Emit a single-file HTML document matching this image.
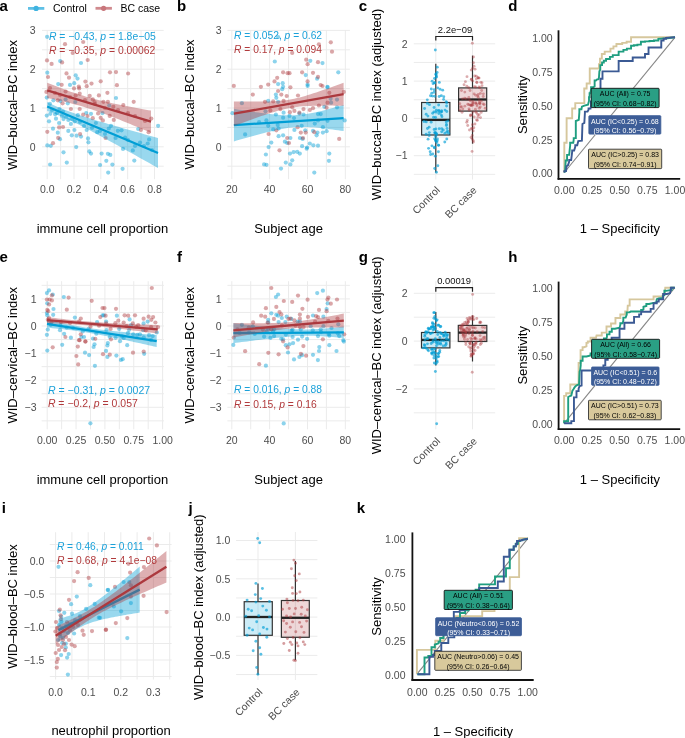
<!DOCTYPE html>
<html><head><meta charset="utf-8"><style>
html,body{margin:0;padding:0;background:#fff;}
svg{display:block;font-family:"Liberation Sans", sans-serif;will-change:transform;}
</style></head><body>
<svg width="685" height="738" viewBox="0 0 685 738">
<rect width="685" height="738" fill="#fff"/>
<line x1="28" y1="8.4" x2="44.3" y2="8.4" stroke="#5fc0e6" stroke-width="2.8" stroke-linecap="butt"/>
<circle cx="36.1" cy="8.4" r="2.6" fill="#3fb3e0"/>
<text x="53" y="12" font-size="10.5" text-anchor="start" fill="#000" font-weight="normal">Control</text>
<line x1="95.5" y1="8.3" x2="111.9" y2="8.3" stroke="#d08a8e" stroke-width="2.8" stroke-linecap="butt"/>
<circle cx="103.6" cy="8.3" r="2.6" fill="#c8767b"/>
<text x="120.4" y="12" font-size="10.5" text-anchor="start" fill="#000" font-weight="normal">BC case</text>
<text x="-0.6" y="10.7" font-size="15" text-anchor="start" fill="#000" font-weight="bold">a</text>
<line x1="42" y1="166.2" x2="163.7" y2="166.2" stroke="#ebebeb" stroke-width="1" stroke-linecap="butt"/>
<line x1="42" y1="146.8" x2="163.7" y2="146.8" stroke="#ebebeb" stroke-width="1" stroke-linecap="butt"/>
<line x1="42" y1="127.4" x2="163.7" y2="127.4" stroke="#ebebeb" stroke-width="1" stroke-linecap="butt"/>
<line x1="42" y1="108" x2="163.7" y2="108" stroke="#ebebeb" stroke-width="1" stroke-linecap="butt"/>
<line x1="42" y1="88.6" x2="163.7" y2="88.6" stroke="#ebebeb" stroke-width="1" stroke-linecap="butt"/>
<line x1="42" y1="69.2" x2="163.7" y2="69.2" stroke="#ebebeb" stroke-width="1" stroke-linecap="butt"/>
<line x1="42" y1="49.8" x2="163.7" y2="49.8" stroke="#ebebeb" stroke-width="1" stroke-linecap="butt"/>
<line x1="42" y1="30.4" x2="163.7" y2="30.4" stroke="#ebebeb" stroke-width="1" stroke-linecap="butt"/>
<line x1="47.2" y1="30" x2="47.2" y2="179.2" stroke="#ebebeb" stroke-width="1" stroke-linecap="butt"/>
<line x1="60.61" y1="30" x2="60.61" y2="179.2" stroke="#ebebeb" stroke-width="1" stroke-linecap="butt"/>
<line x1="74.02" y1="30" x2="74.02" y2="179.2" stroke="#ebebeb" stroke-width="1" stroke-linecap="butt"/>
<line x1="87.43" y1="30" x2="87.43" y2="179.2" stroke="#ebebeb" stroke-width="1" stroke-linecap="butt"/>
<line x1="100.84" y1="30" x2="100.84" y2="179.2" stroke="#ebebeb" stroke-width="1" stroke-linecap="butt"/>
<line x1="114.25" y1="30" x2="114.25" y2="179.2" stroke="#ebebeb" stroke-width="1" stroke-linecap="butt"/>
<line x1="127.66" y1="30" x2="127.66" y2="179.2" stroke="#ebebeb" stroke-width="1" stroke-linecap="butt"/>
<line x1="141.07" y1="30" x2="141.07" y2="179.2" stroke="#ebebeb" stroke-width="1" stroke-linecap="butt"/>
<line x1="154.48" y1="30" x2="154.48" y2="179.2" stroke="#ebebeb" stroke-width="1" stroke-linecap="butt"/>
<g fill="#009ed5" fill-opacity="0.45"><circle cx="47.1" cy="36.8" r="2.1"/><circle cx="60.2" cy="61.1" r="2.1"/><circle cx="81" cy="63" r="2.1"/><circle cx="47.3" cy="72.7" r="2.1"/><circle cx="75.7" cy="75.3" r="2.1"/><circle cx="77.5" cy="78.6" r="2.1"/><circle cx="58.2" cy="84.1" r="2.1"/><circle cx="70" cy="84.9" r="2.1"/><circle cx="74.2" cy="83.2" r="2.1"/><circle cx="46.8" cy="97.6" r="2.1"/><circle cx="60.4" cy="101.1" r="2.1"/><circle cx="67.8" cy="103.3" r="2.1"/><circle cx="75.3" cy="102" r="2.1"/><circle cx="65.6" cy="99.4" r="2.1"/><circle cx="46.8" cy="115.6" r="2.1"/><circle cx="50.3" cy="113.8" r="2.1"/><circle cx="56" cy="118.7" r="2.1"/><circle cx="49" cy="121.3" r="2.1"/><circle cx="59.1" cy="123" r="2.1"/><circle cx="63.5" cy="119.1" r="2.1"/><circle cx="68.3" cy="120" r="2.1"/><circle cx="70.9" cy="123.9" r="2.1"/><circle cx="74.8" cy="121.3" r="2.1"/><circle cx="77.9" cy="115.2" r="2.1"/><circle cx="86.2" cy="113" r="2.1"/><circle cx="91" cy="113.8" r="2.1"/><circle cx="53" cy="128.7" r="2.1"/><circle cx="57.8" cy="132.7" r="2.1"/><circle cx="68.3" cy="130.9" r="2.1"/><circle cx="74.4" cy="130" r="2.1"/><circle cx="71.8" cy="135.3" r="2.1"/><circle cx="76.6" cy="135.7" r="2.1"/><circle cx="81" cy="136.6" r="2.1"/><circle cx="60" cy="139.2" r="2.1"/><circle cx="86.7" cy="130" r="2.1"/><circle cx="88" cy="138.4" r="2.1"/><circle cx="88.4" cy="142.3" r="2.1"/><circle cx="95.9" cy="123" r="2.1"/><circle cx="97.2" cy="132.2" r="2.1"/><circle cx="47.3" cy="145.4" r="2.1"/><circle cx="50.8" cy="145.8" r="2.1"/><circle cx="76.2" cy="147.1" r="2.1"/><circle cx="55.1" cy="114.3" r="2.1"/><circle cx="63" cy="111.6" r="2.1"/><circle cx="59.5" cy="109" r="2.1"/><circle cx="49.9" cy="103.8" r="2.1"/><circle cx="53.4" cy="100.3" r="2.1"/><circle cx="63.5" cy="152.3" r="2.1"/><circle cx="89.3" cy="151.4" r="2.1"/><circle cx="91" cy="153.6" r="2.1"/><circle cx="101.6" cy="153.6" r="2.1"/><circle cx="50.1" cy="164.5" r="2.1"/><circle cx="66.8" cy="162.6" r="2.1"/><circle cx="100.1" cy="165" r="2.1"/><circle cx="116" cy="98" r="2.1"/><circle cx="109.2" cy="105.5" r="2.1"/><circle cx="111" cy="125.8" r="2.1"/><circle cx="108.8" cy="128.5" r="2.1"/><circle cx="117.8" cy="130.8" r="2.1"/><circle cx="121.5" cy="130.3" r="2.1"/><circle cx="138.2" cy="129" r="2.1"/><circle cx="158.1" cy="125.8" r="2.1"/><circle cx="125.1" cy="137.6" r="2.1"/><circle cx="149.1" cy="139.4" r="2.1"/><circle cx="147.7" cy="143.5" r="2.1"/><circle cx="140" cy="142.6" r="2.1"/><circle cx="115.6" cy="138" r="2.1"/><circle cx="102.5" cy="113.1" r="2.1"/><circle cx="123" cy="148.9" r="2.1"/><circle cx="132.8" cy="150.4" r="2.1"/><circle cx="135" cy="145.9" r="2.1"/><circle cx="107.9" cy="153.8" r="2.1"/><circle cx="110.3" cy="154.9" r="2.1"/><circle cx="106.3" cy="160.8" r="2.1"/><circle cx="112.4" cy="164.6" r="2.1"/><circle cx="134.3" cy="160.6" r="2.1"/><circle cx="122.6" cy="168.8" r="2.1"/><circle cx="108.2" cy="172.6" r="2.1"/><circle cx="52" cy="110" r="2.1"/><circle cx="57" cy="113" r="2.1"/><circle cx="62" cy="116" r="2.1"/><circle cx="66" cy="117" r="2.1"/><circle cx="72" cy="119" r="2.1"/><circle cx="80" cy="122" r="2.1"/><circle cx="84" cy="126" r="2.1"/><circle cx="92" cy="128" r="2.1"/><circle cx="100" cy="131" r="2.1"/><circle cx="105" cy="134" r="2.1"/><circle cx="128" cy="140" r="2.1"/><circle cx="144" cy="146" r="2.1"/><circle cx="152" cy="150" r="2.1"/></g>
<g fill="#ac393e" fill-opacity="0.45"><circle cx="83.2" cy="42" r="2.1"/><circle cx="65" cy="44.2" r="2.1"/><circle cx="72.7" cy="53" r="2.1"/><circle cx="47" cy="60.4" r="2.1"/><circle cx="51.6" cy="63.9" r="2.1"/><circle cx="62.1" cy="62.4" r="2.1"/><circle cx="87.7" cy="60" r="2.1"/><circle cx="48" cy="77" r="2.1"/><circle cx="66.5" cy="73.4" r="2.1"/><circle cx="69" cy="77.7" r="2.1"/><circle cx="85.4" cy="81.6" r="2.1"/><circle cx="91.5" cy="83.6" r="2.1"/><circle cx="100.7" cy="81.3" r="2.1"/><circle cx="61.7" cy="84.8" r="2.1"/><circle cx="78.8" cy="86.7" r="2.1"/><circle cx="86.7" cy="86.2" r="2.1"/><circle cx="74" cy="88.4" r="2.1"/><circle cx="79.2" cy="88.4" r="2.1"/><circle cx="46.4" cy="91.9" r="2.1"/><circle cx="65.6" cy="91.5" r="2.1"/><circle cx="79.7" cy="93.7" r="2.1"/><circle cx="89.7" cy="95.9" r="2.1"/><circle cx="98.9" cy="95.4" r="2.1"/><circle cx="75.7" cy="95.4" r="2.1"/><circle cx="57.8" cy="100.3" r="2.1"/><circle cx="62.6" cy="103.3" r="2.1"/><circle cx="92.8" cy="99.4" r="2.1"/><circle cx="70.9" cy="109" r="2.1"/><circle cx="79.7" cy="109" r="2.1"/><circle cx="83.2" cy="114.7" r="2.1"/><circle cx="87.5" cy="116" r="2.1"/><circle cx="92.8" cy="118.2" r="2.1"/><circle cx="98.1" cy="113.4" r="2.1"/><circle cx="100.7" cy="117.8" r="2.1"/><circle cx="47.3" cy="131.8" r="2.1"/><circle cx="59.1" cy="127.4" r="2.1"/><circle cx="63" cy="127" r="2.1"/><circle cx="58.2" cy="137.9" r="2.1"/><circle cx="53" cy="143.2" r="2.1"/><circle cx="80.1" cy="134" r="2.1"/><circle cx="94.6" cy="102" r="2.1"/><circle cx="110" cy="72.3" r="2.1"/><circle cx="116" cy="72.1" r="2.1"/><circle cx="128.1" cy="73.5" r="2.1"/><circle cx="116.9" cy="85.2" r="2.1"/><circle cx="107.4" cy="92.8" r="2.1"/><circle cx="103.4" cy="101.8" r="2.1"/><circle cx="107.9" cy="101.8" r="2.1"/><circle cx="133.7" cy="101.8" r="2.1"/><circle cx="123.3" cy="105" r="2.1"/><circle cx="113.3" cy="106.8" r="2.1"/><circle cx="109.7" cy="115.9" r="2.1"/><circle cx="113.8" cy="119.9" r="2.1"/><circle cx="102.9" cy="120.4" r="2.1"/><circle cx="151.3" cy="118.6" r="2.1"/><circle cx="140.9" cy="129.9" r="2.1"/><circle cx="148.6" cy="132.2" r="2.1"/><circle cx="105.6" cy="138" r="2.1"/><circle cx="50" cy="88" r="2.1"/><circle cx="55" cy="93" r="2.1"/><circle cx="60" cy="95" r="2.1"/><circle cx="70" cy="97" r="2.1"/><circle cx="85" cy="100" r="2.1"/><circle cx="95" cy="104" r="2.1"/><circle cx="105" cy="108" r="2.1"/><circle cx="118" cy="110" r="2.1"/><circle cx="128" cy="113" r="2.1"/><circle cx="135" cy="116" r="2.1"/><circle cx="145" cy="121" r="2.1"/></g>
<path d="M47.2 102.1 L49.97 103.42 L52.74 104.7 L55.51 105.94 L58.28 107.14 L61.05 108.31 L63.82 109.43 L66.59 110.51 L69.36 111.55 L72.13 112.56 L74.9 113.54 L77.67 114.49 L80.44 115.42 L83.21 116.32 L85.98 117.21 L88.75 118.08 L91.52 118.94 L94.29 119.79 L97.06 120.63 L99.83 121.46 L102.6 122.28 L105.37 123.09 L108.14 123.9 L110.91 124.71 L113.68 125.51 L116.45 126.31 L119.22 127.1 L121.99 127.89 L124.76 128.68 L127.53 129.46 L130.3 130.25 L133.07 131.03 L135.84 131.81 L138.61 132.59 L141.38 133.36 L144.15 134.14 L146.92 134.91 L149.69 135.69 L152.46 136.46 L155.23 137.23 L158 138 L158 168 L155.23 166.45 L152.46 164.89 L149.69 163.34 L146.92 161.79 L144.15 160.24 L141.38 158.69 L138.61 157.14 L135.84 155.59 L133.07 154.05 L130.3 152.5 L127.53 150.96 L124.76 149.42 L121.99 147.89 L119.22 146.35 L116.45 144.82 L113.68 143.29 L110.91 141.77 L108.14 140.25 L105.37 138.73 L102.6 137.22 L99.83 135.72 L97.06 134.22 L94.29 132.74 L91.52 131.26 L88.75 129.79 L85.98 128.34 L83.21 126.9 L80.44 125.48 L77.67 124.08 L74.9 122.71 L72.13 121.36 L69.36 120.05 L66.59 118.76 L63.82 117.52 L61.05 116.32 L58.28 115.16 L55.51 114.03 L52.74 112.95 L49.97 111.91 L47.2 110.9Z" fill="#009ed5" fill-opacity="0.4"/>
<line x1="47.2" y1="106.5" x2="158" y2="153" stroke="#009ed5" stroke-width="2.3" stroke-linecap="butt"/>
<path d="M47.2 82.8 L49.8 83.83 L52.39 84.86 L54.98 85.87 L57.58 86.87 L60.18 87.85 L62.77 88.82 L65.37 89.78 L67.96 90.71 L70.56 91.63 L73.15 92.52 L75.75 93.39 L78.34 94.24 L80.94 95.06 L83.53 95.85 L86.12 96.63 L88.72 97.37 L91.31 98.1 L93.91 98.8 L96.5 99.47 L99.1 100.13 L101.69 100.76 L104.29 101.38 L106.89 101.98 L109.48 102.56 L112.08 103.13 L114.67 103.68 L117.27 104.23 L119.86 104.76 L122.45 105.28 L125.05 105.79 L127.64 106.3 L130.24 106.8 L132.84 107.29 L135.43 107.78 L138.03 108.26 L140.62 108.74 L143.22 109.21 L145.81 109.68 L148.41 110.14 L151 110.6 L151 132.8 L148.41 131.7 L145.81 130.59 L143.22 129.5 L140.62 128.4 L138.03 127.32 L135.43 126.23 L132.84 125.15 L130.24 124.08 L127.64 123.01 L125.05 121.96 L122.45 120.9 L119.86 119.86 L117.27 118.83 L114.67 117.81 L112.08 116.8 L109.48 115.8 L106.89 114.82 L104.29 113.85 L101.69 112.9 L99.1 111.97 L96.5 111.06 L93.91 110.17 L91.31 109.31 L88.72 108.47 L86.12 107.65 L83.53 106.86 L80.94 106.09 L78.34 105.34 L75.75 104.63 L73.15 103.93 L70.56 103.26 L67.96 102.61 L65.37 101.98 L62.77 101.37 L60.18 100.77 L57.58 100.19 L54.98 99.62 L52.39 99.07 L49.8 98.53 L47.2 98Z" fill="#ac393e" fill-opacity="0.4"/>
<line x1="47.2" y1="90.4" x2="151" y2="121.7" stroke="#ac393e" stroke-width="2.3" stroke-linecap="butt"/>
<text x="48.9" y="39.8" font-size="10.5" fill="#1ba1d9" textLength="106.9" lengthAdjust="spacingAndGlyphs" xml:space="preserve"><tspan font-style="italic">R</tspan> = −0.43, <tspan font-style="italic">p</tspan> = 1.8e−05</text>
<text x="48.9" y="53.6" font-size="10.5" fill="#b13a3c" textLength="106.5" lengthAdjust="spacingAndGlyphs" xml:space="preserve"><tspan font-style="italic">R</tspan> = −0.35, <tspan font-style="italic">p</tspan> = 0.00062</text>
<text x="35.6" y="150.5" font-size="10.5" text-anchor="end" fill="#4d4d4d" font-weight="normal">0</text>
<text x="35.6" y="111.7" font-size="10.5" text-anchor="end" fill="#4d4d4d" font-weight="normal">1</text>
<text x="35.6" y="72.9" font-size="10.5" text-anchor="end" fill="#4d4d4d" font-weight="normal">2</text>
<text x="35.6" y="34.1" font-size="10.5" text-anchor="end" fill="#4d4d4d" font-weight="normal">3</text>
<text x="47.2" y="193.3" font-size="10.5" text-anchor="middle" fill="#4d4d4d" font-weight="normal">0.0</text>
<text x="74.02" y="193.3" font-size="10.5" text-anchor="middle" fill="#4d4d4d" font-weight="normal">0.2</text>
<text x="100.84" y="193.3" font-size="10.5" text-anchor="middle" fill="#4d4d4d" font-weight="normal">0.4</text>
<text x="127.66" y="193.3" font-size="10.5" text-anchor="middle" fill="#4d4d4d" font-weight="normal">0.6</text>
<text x="154.48" y="193.3" font-size="10.5" text-anchor="middle" fill="#4d4d4d" font-weight="normal">0.8</text>
<text x="102.4" y="233.3" font-size="13" text-anchor="middle" fill="#000" font-weight="normal">immune cell proportion</text>
<text x="16.8" y="105" font-size="13" text-anchor="middle" fill="#000" font-weight="normal" transform="rotate(-90 16.8 105)">WID–buccal–BC index</text>
<text x="177" y="10.7" font-size="15" text-anchor="start" fill="#000" font-weight="bold">b</text>
<line x1="227.4" y1="166.2" x2="349.9" y2="166.2" stroke="#ebebeb" stroke-width="1" stroke-linecap="butt"/>
<line x1="227.4" y1="146.8" x2="349.9" y2="146.8" stroke="#ebebeb" stroke-width="1" stroke-linecap="butt"/>
<line x1="227.4" y1="127.4" x2="349.9" y2="127.4" stroke="#ebebeb" stroke-width="1" stroke-linecap="butt"/>
<line x1="227.4" y1="108" x2="349.9" y2="108" stroke="#ebebeb" stroke-width="1" stroke-linecap="butt"/>
<line x1="227.4" y1="88.6" x2="349.9" y2="88.6" stroke="#ebebeb" stroke-width="1" stroke-linecap="butt"/>
<line x1="227.4" y1="69.2" x2="349.9" y2="69.2" stroke="#ebebeb" stroke-width="1" stroke-linecap="butt"/>
<line x1="227.4" y1="49.8" x2="349.9" y2="49.8" stroke="#ebebeb" stroke-width="1" stroke-linecap="butt"/>
<line x1="227.4" y1="30.4" x2="349.9" y2="30.4" stroke="#ebebeb" stroke-width="1" stroke-linecap="butt"/>
<line x1="231.8" y1="30" x2="231.8" y2="179.2" stroke="#ebebeb" stroke-width="1" stroke-linecap="butt"/>
<line x1="250.72" y1="30" x2="250.72" y2="179.2" stroke="#ebebeb" stroke-width="1" stroke-linecap="butt"/>
<line x1="269.64" y1="30" x2="269.64" y2="179.2" stroke="#ebebeb" stroke-width="1" stroke-linecap="butt"/>
<line x1="288.56" y1="30" x2="288.56" y2="179.2" stroke="#ebebeb" stroke-width="1" stroke-linecap="butt"/>
<line x1="307.48" y1="30" x2="307.48" y2="179.2" stroke="#ebebeb" stroke-width="1" stroke-linecap="butt"/>
<line x1="326.4" y1="30" x2="326.4" y2="179.2" stroke="#ebebeb" stroke-width="1" stroke-linecap="butt"/>
<line x1="345.32" y1="30" x2="345.32" y2="179.2" stroke="#ebebeb" stroke-width="1" stroke-linecap="butt"/>
<g fill="#009ed5" fill-opacity="0.45"><circle cx="274.8" cy="61.5" r="2.1"/><circle cx="278.1" cy="37" r="2.1"/><circle cx="282.7" cy="83.2" r="2.1"/><circle cx="283.1" cy="86.8" r="2.1"/><circle cx="278.1" cy="84.1" r="2.1"/><circle cx="310.3" cy="60.8" r="2.1"/><circle cx="322.5" cy="63.1" r="2.1"/><circle cx="305.7" cy="75.1" r="2.1"/><circle cx="317.1" cy="78.7" r="2.1"/><circle cx="338.3" cy="72.3" r="2.1"/><circle cx="307.6" cy="84.6" r="2.1"/><circle cx="327.5" cy="86.8" r="2.1"/><circle cx="282.2" cy="89.2" r="2.1"/><circle cx="275.9" cy="94.6" r="2.1"/><circle cx="276.3" cy="97.8" r="2.1"/><circle cx="268.2" cy="100.9" r="2.1"/><circle cx="278.1" cy="101.8" r="2.1"/><circle cx="241.9" cy="103.2" r="2.1"/><circle cx="232.4" cy="113.2" r="2.1"/><circle cx="265.5" cy="111.3" r="2.1"/><circle cx="275.9" cy="114.5" r="2.1"/><circle cx="283.6" cy="112.7" r="2.1"/><circle cx="283.1" cy="117.7" r="2.1"/><circle cx="266.4" cy="120.4" r="2.1"/><circle cx="259.1" cy="122.2" r="2.1"/><circle cx="268.2" cy="125.8" r="2.1"/><circle cx="277.7" cy="124.9" r="2.1"/><circle cx="273.2" cy="129.4" r="2.1"/><circle cx="278.6" cy="128.5" r="2.1"/><circle cx="245.1" cy="134.4" r="2.1"/><circle cx="278.6" cy="136.2" r="2.1"/><circle cx="283.1" cy="135.3" r="2.1"/><circle cx="271.3" cy="142.6" r="2.1"/><circle cx="284.9" cy="141.7" r="2.1"/><circle cx="287.2" cy="143" r="2.1"/><circle cx="268.6" cy="147.1" r="2.1"/><circle cx="327.5" cy="87.4" r="2.1"/><circle cx="330.6" cy="98.7" r="2.1"/><circle cx="337" cy="99.6" r="2.1"/><circle cx="331.1" cy="102.7" r="2.1"/><circle cx="324.3" cy="106.8" r="2.1"/><circle cx="337" cy="107.3" r="2.1"/><circle cx="299.4" cy="113.6" r="2.1"/><circle cx="303.5" cy="114.5" r="2.1"/><circle cx="318" cy="114.1" r="2.1"/><circle cx="320.7" cy="114.1" r="2.1"/><circle cx="294" cy="118.1" r="2.1"/><circle cx="289.5" cy="115.9" r="2.1"/><circle cx="344.7" cy="120.4" r="2.1"/><circle cx="314.8" cy="123.6" r="2.1"/><circle cx="301.7" cy="125.8" r="2.1"/><circle cx="322.9" cy="127.2" r="2.1"/><circle cx="327.5" cy="120.8" r="2.1"/><circle cx="318" cy="120.4" r="2.1"/><circle cx="294.4" cy="129.9" r="2.1"/><circle cx="305.3" cy="130.3" r="2.1"/><circle cx="313" cy="130.8" r="2.1"/><circle cx="317.5" cy="132.6" r="2.1"/><circle cx="316.6" cy="135.3" r="2.1"/><circle cx="322.9" cy="132.6" r="2.1"/><circle cx="326.6" cy="131.2" r="2.1"/><circle cx="290.4" cy="138" r="2.1"/><circle cx="299.9" cy="138" r="2.1"/><circle cx="302.6" cy="138.9" r="2.1"/><circle cx="309.8" cy="143.5" r="2.1"/><circle cx="313.4" cy="145.3" r="2.1"/><circle cx="318" cy="145.7" r="2.1"/><circle cx="302.1" cy="146.2" r="2.1"/><circle cx="307.1" cy="147.5" r="2.1"/><circle cx="307.6" cy="86" r="2.1"/><circle cx="265.9" cy="154.5" r="2.1"/><circle cx="290" cy="153.6" r="2.1"/><circle cx="293.6" cy="152.1" r="2.1"/><circle cx="297.2" cy="151.8" r="2.1"/><circle cx="299.8" cy="153.6" r="2.1"/><circle cx="306.7" cy="148.7" r="2.1"/><circle cx="329.3" cy="153.6" r="2.1"/><circle cx="328.9" cy="160.8" r="2.1"/><circle cx="292.2" cy="160.3" r="2.1"/><circle cx="285.8" cy="162.6" r="2.1"/><circle cx="290.4" cy="164.4" r="2.1"/><circle cx="264.1" cy="164.4" r="2.1"/><circle cx="266.5" cy="164.8" r="2.1"/><circle cx="281" cy="168.6" r="2.1"/><circle cx="314.3" cy="172.6" r="2.1"/></g>
<g fill="#ac393e" fill-opacity="0.45"><circle cx="283.1" cy="72.3" r="2.1"/><circle cx="287.6" cy="73.2" r="2.1"/><circle cx="277.2" cy="77.8" r="2.1"/><circle cx="274.5" cy="81.4" r="2.1"/><circle cx="268.2" cy="84.6" r="2.1"/><circle cx="260.9" cy="86.8" r="2.1"/><circle cx="233.8" cy="85.9" r="2.1"/><circle cx="318.9" cy="44.3" r="2.1"/><circle cx="330.8" cy="42.3" r="2.1"/><circle cx="332" cy="51.7" r="2.1"/><circle cx="292.2" cy="52.9" r="2.1"/><circle cx="306.2" cy="59.7" r="2.1"/><circle cx="307.6" cy="64.2" r="2.1"/><circle cx="318" cy="62.2" r="2.1"/><circle cx="302.1" cy="72.3" r="2.1"/><circle cx="313" cy="72.8" r="2.1"/><circle cx="318" cy="76.9" r="2.1"/><circle cx="307.6" cy="81.4" r="2.1"/><circle cx="320.7" cy="85" r="2.1"/><circle cx="289.5" cy="73.2" r="2.1"/><circle cx="290.4" cy="87.3" r="2.1"/><circle cx="252.8" cy="94.6" r="2.1"/><circle cx="278.1" cy="91" r="2.1"/><circle cx="281.3" cy="94.6" r="2.1"/><circle cx="286.7" cy="96" r="2.1"/><circle cx="265" cy="101.8" r="2.1"/><circle cx="273.2" cy="101.4" r="2.1"/><circle cx="283.6" cy="100.9" r="2.1"/><circle cx="268.6" cy="134" r="2.1"/><circle cx="276.3" cy="130.3" r="2.1"/><circle cx="287.2" cy="138" r="2.1"/><circle cx="280.4" cy="109.1" r="2.1"/><circle cx="270.4" cy="110.4" r="2.1"/><circle cx="298" cy="95.5" r="2.1"/><circle cx="329.3" cy="92.8" r="2.1"/><circle cx="343.8" cy="91.9" r="2.1"/><circle cx="318.9" cy="105.5" r="2.1"/><circle cx="327.5" cy="102.7" r="2.1"/><circle cx="326.6" cy="107.7" r="2.1"/><circle cx="313" cy="108.2" r="2.1"/><circle cx="309.8" cy="110" r="2.1"/><circle cx="303.5" cy="109.1" r="2.1"/><circle cx="294.4" cy="110.9" r="2.1"/><circle cx="292.2" cy="107.3" r="2.1"/><circle cx="289.9" cy="112.2" r="2.1"/><circle cx="299.4" cy="112.7" r="2.1"/><circle cx="297.6" cy="127.2" r="2.1"/><circle cx="300.8" cy="132.6" r="2.1"/><circle cx="305.7" cy="132.6" r="2.1"/><circle cx="314.3" cy="132.2" r="2.1"/><circle cx="339.2" cy="138.9" r="2.1"/><circle cx="303" cy="138" r="2.1"/><circle cx="289" cy="143" r="2.1"/><circle cx="322.5" cy="86" r="2.1"/><circle cx="279.5" cy="150.3" r="2.1"/></g>
<path d="M233.9 108.8 L236.64 109.24 L239.39 109.68 L242.13 110.12 L244.87 110.55 L247.61 110.97 L250.36 111.39 L253.1 111.79 L255.84 112.19 L258.58 112.58 L261.32 112.96 L264.07 113.32 L266.81 113.67 L269.55 113.99 L272.3 114.29 L275.04 114.57 L277.78 114.81 L280.52 115.02 L283.26 115.18 L286.01 115.28 L288.75 115.33 L291.49 115.32 L294.24 115.23 L296.98 115.07 L299.72 114.84 L302.46 114.53 L305.21 114.16 L307.95 113.73 L310.69 113.24 L313.43 112.7 L316.18 112.13 L318.92 111.52 L321.66 110.88 L324.4 110.21 L327.15 109.52 L329.89 108.82 L332.63 108.1 L335.37 107.36 L338.12 106.62 L340.86 105.86 L343.6 105.1 L343.6 131.1 L340.86 130.69 L338.12 130.28 L335.37 129.89 L332.63 129.5 L329.89 129.13 L327.15 128.78 L324.4 128.44 L321.66 128.12 L318.92 127.83 L316.18 127.57 L313.43 127.35 L310.69 127.16 L307.95 127.02 L305.21 126.94 L302.46 126.92 L299.72 126.96 L296.98 127.08 L294.24 127.27 L291.49 127.53 L288.75 127.87 L286.01 128.27 L283.26 128.72 L280.52 129.23 L277.78 129.79 L275.04 130.38 L272.3 131.01 L269.55 131.66 L266.81 132.33 L264.07 133.03 L261.32 133.74 L258.58 134.47 L255.84 135.21 L253.1 135.96 L250.36 136.71 L247.61 137.48 L244.87 138.25 L242.13 139.03 L239.39 139.82 L236.64 140.61 L233.9 141.4Z" fill="#009ed5" fill-opacity="0.4"/>
<line x1="233.9" y1="125.1" x2="343.6" y2="118.1" stroke="#009ed5" stroke-width="2.3" stroke-linecap="butt"/>
<path d="M233.9 101.5 L236.64 101.53 L239.39 101.56 L242.13 101.58 L244.87 101.6 L247.61 101.62 L250.36 101.62 L253.1 101.62 L255.84 101.62 L258.58 101.6 L261.32 101.57 L264.07 101.53 L266.81 101.47 L269.55 101.39 L272.3 101.28 L275.04 101.14 L277.78 100.97 L280.52 100.74 L283.26 100.47 L286.01 100.14 L288.75 99.73 L291.49 99.26 L294.24 98.71 L296.98 98.09 L299.72 97.41 L302.46 96.68 L305.21 95.89 L307.95 95.07 L310.69 94.21 L313.43 93.32 L316.18 92.42 L318.92 91.49 L321.66 90.55 L324.4 89.6 L327.15 88.63 L329.89 87.66 L332.63 86.68 L335.37 85.69 L338.12 84.7 L340.86 83.7 L343.6 82.7 L343.6 105.7 L340.86 105.67 L338.12 105.65 L335.37 105.63 L332.63 105.62 L329.89 105.62 L327.15 105.62 L324.4 105.63 L321.66 105.65 L318.92 105.68 L316.18 105.73 L313.43 105.8 L310.69 105.89 L307.95 106.01 L305.21 106.16 L302.46 106.35 L299.72 106.59 L296.98 106.88 L294.24 107.24 L291.49 107.67 L288.75 108.17 L286.01 108.74 L283.26 109.38 L280.52 110.08 L277.78 110.83 L275.04 111.63 L272.3 112.47 L269.55 113.34 L266.81 114.23 L264.07 115.15 L261.32 116.08 L258.58 117.02 L255.84 117.98 L253.1 118.95 L250.36 119.93 L247.61 120.91 L244.87 121.9 L242.13 122.89 L239.39 123.89 L236.64 124.89 L233.9 125.9Z" fill="#ac393e" fill-opacity="0.4"/>
<line x1="233.9" y1="113.7" x2="343.6" y2="94.2" stroke="#ac393e" stroke-width="2.3" stroke-linecap="butt"/>
<text x="234" y="39" font-size="10.5" fill="#1ba1d9" textLength="88.1" lengthAdjust="spacingAndGlyphs" xml:space="preserve"><tspan font-style="italic">R</tspan> = 0.052, <tspan font-style="italic">p</tspan> = 0.62</text>
<text x="234" y="52.7" font-size="10.5" fill="#b13a3c" textLength="88" lengthAdjust="spacingAndGlyphs" xml:space="preserve"><tspan font-style="italic">R</tspan> = 0.17, <tspan font-style="italic">p</tspan> = 0.094</text>
<text x="221.6" y="150.5" font-size="10.5" text-anchor="end" fill="#4d4d4d" font-weight="normal">0</text>
<text x="221.6" y="111.7" font-size="10.5" text-anchor="end" fill="#4d4d4d" font-weight="normal">1</text>
<text x="221.6" y="72.9" font-size="10.5" text-anchor="end" fill="#4d4d4d" font-weight="normal">2</text>
<text x="221.6" y="34.1" font-size="10.5" text-anchor="end" fill="#4d4d4d" font-weight="normal">3</text>
<text x="231.8" y="193.3" font-size="10.5" text-anchor="middle" fill="#4d4d4d" font-weight="normal">20</text>
<text x="269.64" y="193.3" font-size="10.5" text-anchor="middle" fill="#4d4d4d" font-weight="normal">40</text>
<text x="307.48" y="193.3" font-size="10.5" text-anchor="middle" fill="#4d4d4d" font-weight="normal">60</text>
<text x="345.32" y="193.3" font-size="10.5" text-anchor="middle" fill="#4d4d4d" font-weight="normal">80</text>
<text x="288.6" y="233.3" font-size="13" text-anchor="middle" fill="#000" font-weight="normal">Subject age</text>
<text x="194.4" y="104.4" font-size="13" text-anchor="middle" fill="#000" font-weight="normal" transform="rotate(-90 194.4 104.4)">WID–buccal–BC index</text>
<text x="358.8" y="10.7" font-size="15" text-anchor="start" fill="#000" font-weight="bold">c</text>
<line x1="413.8" y1="174.35" x2="495.2" y2="174.35" stroke="#ebebeb" stroke-width="1" stroke-linecap="butt"/>
<line x1="413.8" y1="155.7" x2="495.2" y2="155.7" stroke="#ebebeb" stroke-width="1" stroke-linecap="butt"/>
<line x1="413.8" y1="137.05" x2="495.2" y2="137.05" stroke="#ebebeb" stroke-width="1" stroke-linecap="butt"/>
<line x1="413.8" y1="118.4" x2="495.2" y2="118.4" stroke="#ebebeb" stroke-width="1" stroke-linecap="butt"/>
<line x1="413.8" y1="99.75" x2="495.2" y2="99.75" stroke="#ebebeb" stroke-width="1" stroke-linecap="butt"/>
<line x1="413.8" y1="81.1" x2="495.2" y2="81.1" stroke="#ebebeb" stroke-width="1" stroke-linecap="butt"/>
<line x1="413.8" y1="62.45" x2="495.2" y2="62.45" stroke="#ebebeb" stroke-width="1" stroke-linecap="butt"/>
<line x1="413.8" y1="43.8" x2="495.2" y2="43.8" stroke="#ebebeb" stroke-width="1" stroke-linecap="butt"/>
<line x1="435.8" y1="30" x2="435.8" y2="179.5" stroke="#ebebeb" stroke-width="1" stroke-linecap="butt"/>
<line x1="472.5" y1="30" x2="472.5" y2="179.5" stroke="#ebebeb" stroke-width="1" stroke-linecap="butt"/>
<line x1="435.8" y1="63.7" x2="435.8" y2="102.5" stroke="#333" stroke-width="1.2" stroke-linecap="butt"/>
<line x1="435.8" y1="135" x2="435.8" y2="172.6" stroke="#333" stroke-width="1.2" stroke-linecap="butt"/>
<rect x="421.6" y="102.5" width="28.3" height="32.5" fill="#009ed5" fill-opacity="0.2" stroke="#333" stroke-width="1.2"/>
<line x1="421.6" y1="119.9" x2="449.9" y2="119.9" stroke="#222" stroke-width="2.3" stroke-linecap="butt"/>
<line x1="472.5" y1="55.6" x2="472.5" y2="87.9" stroke="#333" stroke-width="1.2" stroke-linecap="butt"/>
<line x1="472.5" y1="111.1" x2="472.5" y2="143.7" stroke="#333" stroke-width="1.2" stroke-linecap="butt"/>
<rect x="458.6" y="87.9" width="28.1" height="23.2" fill="#ac393e" fill-opacity="0.2" stroke="#333" stroke-width="1.2"/>
<line x1="458.6" y1="99.5" x2="486.7" y2="99.5" stroke="#222" stroke-width="2.3" stroke-linecap="butt"/>
<g fill="#009ed5" fill-opacity="0.65"><circle cx="429.12" cy="127.16" r="1.45"/><circle cx="446.2" cy="101.59" r="1.45"/><circle cx="437.45" cy="138.99" r="1.45"/><circle cx="446.42" cy="125.61" r="1.45"/><circle cx="429.29" cy="132.61" r="1.45"/><circle cx="427.91" cy="116.1" r="1.45"/><circle cx="427.31" cy="99.86" r="1.45"/><circle cx="434.7" cy="168.54" r="1.45"/><circle cx="429.48" cy="104.65" r="1.45"/><circle cx="427.36" cy="103.41" r="1.45"/><circle cx="424.59" cy="108.47" r="1.45"/><circle cx="436.5" cy="76.05" r="1.45"/><circle cx="446.65" cy="102.74" r="1.45"/><circle cx="434.59" cy="138.86" r="1.45"/><circle cx="434.54" cy="82.89" r="1.45"/><circle cx="426.22" cy="121.88" r="1.45"/><circle cx="436.43" cy="172.2" r="1.45"/><circle cx="436.36" cy="77.15" r="1.45"/><circle cx="446.47" cy="124.36" r="1.45"/><circle cx="447.83" cy="120.9" r="1.45"/><circle cx="435.34" cy="132.98" r="1.45"/><circle cx="432.13" cy="81.17" r="1.45"/><circle cx="438.43" cy="151.76" r="1.45"/><circle cx="443.78" cy="96.81" r="1.45"/><circle cx="443.63" cy="99.39" r="1.45"/><circle cx="437.14" cy="72.38" r="1.45"/><circle cx="434.15" cy="89.65" r="1.45"/><circle cx="438.63" cy="105.01" r="1.45"/><circle cx="448.63" cy="133.33" r="1.45"/><circle cx="441.91" cy="116.64" r="1.45"/><circle cx="434.68" cy="96.25" r="1.45"/><circle cx="430.6" cy="154.57" r="1.45"/><circle cx="435.39" cy="140.05" r="1.45"/><circle cx="438.78" cy="110.9" r="1.45"/><circle cx="431.77" cy="93.14" r="1.45"/><circle cx="439.18" cy="96.48" r="1.45"/><circle cx="438.61" cy="145.22" r="1.45"/><circle cx="437.86" cy="165.69" r="1.45"/><circle cx="434" cy="111.83" r="1.45"/><circle cx="446.57" cy="106.07" r="1.45"/><circle cx="432.37" cy="96.09" r="1.45"/><circle cx="435.73" cy="141.05" r="1.45"/><circle cx="444.79" cy="141.96" r="1.45"/><circle cx="431.31" cy="89.02" r="1.45"/><circle cx="433.56" cy="117.27" r="1.45"/><circle cx="435.65" cy="136.4" r="1.45"/><circle cx="435.32" cy="156.15" r="1.45"/><circle cx="437.29" cy="67.13" r="1.45"/><circle cx="437.27" cy="140.87" r="1.45"/><circle cx="434.63" cy="132.82" r="1.45"/><circle cx="432.81" cy="154.05" r="1.45"/><circle cx="424.02" cy="121.46" r="1.45"/><circle cx="437.78" cy="87.86" r="1.45"/><circle cx="447.72" cy="131.1" r="1.45"/><circle cx="427.45" cy="128.45" r="1.45"/><circle cx="441.37" cy="115.12" r="1.45"/><circle cx="431.91" cy="145.86" r="1.45"/><circle cx="438.78" cy="110.41" r="1.45"/><circle cx="434.11" cy="92.3" r="1.45"/><circle cx="447.05" cy="128.45" r="1.45"/><circle cx="426.18" cy="114.19" r="1.45"/><circle cx="434.63" cy="82.67" r="1.45"/><circle cx="439.34" cy="82.42" r="1.45"/><circle cx="438.47" cy="145.14" r="1.45"/><circle cx="441.57" cy="110.68" r="1.45"/><circle cx="430.5" cy="95.8" r="1.45"/><circle cx="442.7" cy="90.15" r="1.45"/><circle cx="434.5" cy="78.46" r="1.45"/><circle cx="445.05" cy="110.1" r="1.45"/><circle cx="436.79" cy="142.43" r="1.45"/><circle cx="435.47" cy="132.8" r="1.45"/><circle cx="430.19" cy="151.82" r="1.45"/><circle cx="443.29" cy="130.03" r="1.45"/><circle cx="428.07" cy="139.14" r="1.45"/><circle cx="440.72" cy="112.28" r="1.45"/><circle cx="435.76" cy="74.45" r="1.45"/><circle cx="436.49" cy="134.5" r="1.45"/><circle cx="441.75" cy="128.66" r="1.45"/><circle cx="436.11" cy="74" r="1.45"/><circle cx="432.71" cy="113.28" r="1.45"/><circle cx="444.92" cy="133.24" r="1.45"/><circle cx="436.43" cy="110.27" r="1.45"/><circle cx="435.88" cy="128.95" r="1.45"/><circle cx="428.57" cy="148.33" r="1.45"/><circle cx="441.33" cy="95.67" r="1.45"/><circle cx="435.57" cy="117.45" r="1.45"/><circle cx="434.42" cy="147.32" r="1.45"/><circle cx="446.81" cy="131.95" r="1.45"/><circle cx="434.08" cy="107.53" r="1.45"/><circle cx="446.21" cy="122.01" r="1.45"/><circle cx="438.87" cy="113.47" r="1.45"/><circle cx="426.17" cy="134.22" r="1.45"/><circle cx="429.14" cy="135.55" r="1.45"/><circle cx="431.17" cy="122.16" r="1.45"/><circle cx="441.8" cy="111.63" r="1.45"/><circle cx="436.07" cy="112.15" r="1.45"/><circle cx="434.16" cy="129.45" r="1.45"/><circle cx="434.45" cy="147.92" r="1.45"/><circle cx="439.21" cy="128.64" r="1.45"/><circle cx="436.57" cy="133.63" r="1.45"/><circle cx="433.11" cy="83.66" r="1.45"/><circle cx="440.07" cy="89.26" r="1.45"/><circle cx="446.79" cy="111.48" r="1.45"/><circle cx="446.79" cy="139.07" r="1.45"/><circle cx="441.69" cy="131.77" r="1.45"/><circle cx="435.32" cy="50" r="1.45"/></g>
<g fill="#ac393e" fill-opacity="0.42"><circle cx="471.93" cy="128.91" r="1.45"/><circle cx="462.78" cy="108.98" r="1.45"/><circle cx="464.72" cy="98.21" r="1.45"/><circle cx="483.2" cy="96.51" r="1.45"/><circle cx="477.78" cy="114.77" r="1.45"/><circle cx="476.62" cy="113.03" r="1.45"/><circle cx="460.47" cy="106.86" r="1.45"/><circle cx="472.89" cy="102.99" r="1.45"/><circle cx="464.8" cy="106.14" r="1.45"/><circle cx="485.25" cy="108.24" r="1.45"/><circle cx="484.24" cy="104.58" r="1.45"/><circle cx="479.38" cy="102.96" r="1.45"/><circle cx="471.43" cy="79.26" r="1.45"/><circle cx="459.84" cy="103.76" r="1.45"/><circle cx="471.3" cy="105.57" r="1.45"/><circle cx="470.04" cy="90.48" r="1.45"/><circle cx="459.9" cy="109.98" r="1.45"/><circle cx="477.91" cy="117.24" r="1.45"/><circle cx="470.57" cy="115.02" r="1.45"/><circle cx="472.57" cy="80.91" r="1.45"/><circle cx="483.19" cy="103.99" r="1.45"/><circle cx="478.95" cy="87" r="1.45"/><circle cx="475.04" cy="69.14" r="1.45"/><circle cx="476.55" cy="119.95" r="1.45"/><circle cx="467" cy="76.66" r="1.45"/><circle cx="471.87" cy="114.86" r="1.45"/><circle cx="475.71" cy="86.93" r="1.45"/><circle cx="476.82" cy="104.14" r="1.45"/><circle cx="473.14" cy="140.59" r="1.45"/><circle cx="482" cy="82.79" r="1.45"/><circle cx="477.73" cy="95.98" r="1.45"/><circle cx="475.5" cy="103.16" r="1.45"/><circle cx="466.17" cy="99.04" r="1.45"/><circle cx="469.27" cy="110.27" r="1.45"/><circle cx="478.1" cy="77.7" r="1.45"/><circle cx="472.7" cy="103.03" r="1.45"/><circle cx="476.35" cy="76.28" r="1.45"/><circle cx="479.24" cy="108.24" r="1.45"/><circle cx="471.14" cy="137.55" r="1.45"/><circle cx="475.39" cy="109.28" r="1.45"/><circle cx="472.18" cy="138.88" r="1.45"/><circle cx="474.27" cy="117.06" r="1.45"/><circle cx="474.08" cy="93.91" r="1.45"/><circle cx="474.95" cy="123.95" r="1.45"/><circle cx="462.04" cy="112.33" r="1.45"/><circle cx="479.12" cy="100.63" r="1.45"/><circle cx="466.74" cy="122.33" r="1.45"/><circle cx="480.75" cy="82.37" r="1.45"/><circle cx="472.22" cy="135.38" r="1.45"/><circle cx="473.04" cy="112.16" r="1.45"/><circle cx="478.29" cy="97.34" r="1.45"/><circle cx="473.13" cy="130.88" r="1.45"/><circle cx="475.73" cy="95.3" r="1.45"/><circle cx="473.23" cy="101.11" r="1.45"/><circle cx="471.01" cy="104.88" r="1.45"/><circle cx="474.38" cy="86.62" r="1.45"/><circle cx="479.73" cy="103.19" r="1.45"/><circle cx="473.44" cy="141.94" r="1.45"/><circle cx="462.46" cy="98.87" r="1.45"/><circle cx="468.84" cy="104.65" r="1.45"/><circle cx="474.75" cy="75.99" r="1.45"/><circle cx="476.35" cy="79.09" r="1.45"/><circle cx="466.86" cy="86.24" r="1.45"/><circle cx="469.45" cy="129.97" r="1.45"/><circle cx="471.33" cy="79.47" r="1.45"/><circle cx="465.41" cy="81.67" r="1.45"/><circle cx="477.08" cy="106.06" r="1.45"/><circle cx="475.91" cy="102.71" r="1.45"/><circle cx="468.76" cy="87.79" r="1.45"/><circle cx="481.3" cy="101.09" r="1.45"/><circle cx="474.02" cy="66.15" r="1.45"/><circle cx="470.53" cy="100.9" r="1.45"/><circle cx="479.88" cy="87.68" r="1.45"/><circle cx="471.22" cy="70.08" r="1.45"/><circle cx="473.48" cy="56.98" r="1.45"/><circle cx="464.07" cy="84.68" r="1.45"/><circle cx="461.54" cy="106.74" r="1.45"/><circle cx="472.11" cy="105.31" r="1.45"/><circle cx="461.48" cy="90.52" r="1.45"/><circle cx="473.82" cy="127.82" r="1.45"/><circle cx="476.67" cy="82.37" r="1.45"/><circle cx="468.8" cy="97.54" r="1.45"/><circle cx="469.03" cy="108.84" r="1.45"/><circle cx="483.38" cy="93.85" r="1.45"/><circle cx="478.3" cy="77.92" r="1.45"/><circle cx="467.76" cy="104.29" r="1.45"/><circle cx="482.02" cy="85.65" r="1.45"/><circle cx="469" cy="99.67" r="1.45"/><circle cx="470.47" cy="115.78" r="1.45"/><circle cx="480.22" cy="107" r="1.45"/><circle cx="477.47" cy="120.33" r="1.45"/><circle cx="481.19" cy="112.4" r="1.45"/><circle cx="467.72" cy="125.46" r="1.45"/><circle cx="479.13" cy="78.1" r="1.45"/><circle cx="480.41" cy="93.41" r="1.45"/><circle cx="479.99" cy="103.77" r="1.45"/><circle cx="473.45" cy="62.8" r="1.45"/><circle cx="467.3" cy="120.5" r="1.45"/><circle cx="475.97" cy="111.87" r="1.45"/><circle cx="473.06" cy="104.9" r="1.45"/><circle cx="471.68" cy="128.26" r="1.45"/><circle cx="472.43" cy="124.67" r="1.45"/><circle cx="478.24" cy="94.42" r="1.45"/><circle cx="479.2" cy="114.71" r="1.45"/><circle cx="481.69" cy="90.5" r="1.45"/><circle cx="480.54" cy="117.6" r="1.45"/><circle cx="472.65" cy="68.37" r="1.45"/><circle cx="470.43" cy="105.3" r="1.45"/><circle cx="477" cy="82.48" r="1.45"/><circle cx="464.81" cy="92.11" r="1.45"/><circle cx="472.35" cy="43.3" r="1.45"/><circle cx="472.08" cy="151.4" r="1.45"/></g>
<path d="M435.8 40.6 V36.5 H472.5 V40.6" fill="none" stroke="#222" stroke-width="1.2"/>
<text x="455" y="33.4" font-size="9.8" text-anchor="middle" fill="#111" font-weight="normal" textLength="34.3" lengthAdjust="spacingAndGlyphs">2.2e−09</text>
<text x="407.5" y="159.4" font-size="10.5" text-anchor="end" fill="#4d4d4d" font-weight="normal">−1</text>
<text x="407.5" y="122.1" font-size="10.5" text-anchor="end" fill="#4d4d4d" font-weight="normal">0</text>
<text x="407.5" y="84.8" font-size="10.5" text-anchor="end" fill="#4d4d4d" font-weight="normal">1</text>
<text x="407.5" y="47.5" font-size="10.5" text-anchor="end" fill="#4d4d4d" font-weight="normal">2</text>
<text x="440.6" y="190.8" font-size="10.5" text-anchor="end" fill="#4d4d4d" font-weight="normal" transform="rotate(-45 440.6 190.8)">Control</text>
<text x="477.3" y="190.8" font-size="10.5" text-anchor="end" fill="#4d4d4d" font-weight="normal" transform="rotate(-45 477.3 190.8)">BC case</text>
<text x="380.7" y="104.5" font-size="13" text-anchor="middle" fill="#000" font-weight="normal" transform="rotate(-90 380.7 104.5)">WID–buccal–BC index (adjusted)</text>
<text x="508.3" y="10.7" font-size="15" text-anchor="start" fill="#000" font-weight="bold">d</text>
<line x1="564.3" y1="172.5" x2="675" y2="37.3" stroke="#858585" stroke-width="1.1" stroke-linecap="butt"/>
<path d="M564.3 172.5 L564.3 142.76 L566.62 142.76 L566.62 118.28 L572.16 118.28 L572.16 108.55 L575.26 108.55 L575.26 103.14 L584.34 103.14 L584.23 88.54 L586.66 88.54 L586.66 83.54 L589.76 83.54 L589.76 68.53 L598.95 68.53 L598.95 64.07 L600 63.93 L600 58.66 L601.83 58.66 L601.83 53.93 L604.71 53.93 L604.71 51.63 L610.46 51.63 L610.46 48.66 L613.45 48.66 L613.45 46.36 L616.44 46.36 L616.44 44.06 L622.2 44.06 L622.2 42.91 L626.62 42.91 L626.62 41.76 L631.05 41.76 L631.05 37.3 L633.93 37.3 L675 37.3" fill="none" stroke="#d6c79d" stroke-width="1.9" stroke-linejoin="miter"/>
<path d="M564.3 172.5 L565.07 171.15 L565.63 162.09 L565.63 160.47 L567.07 160.47 L567.07 154.92 L569.17 154.92 L570.17 145.32 L570.17 142.76 L573.27 142.76 L573.71 139.78 L573.71 138.16 L575.81 138.16 L575.81 120.99 L578.8 119.91 L579.36 112.2 L579.36 109.23 L581.46 109.23 L581.9 106.66 L584.34 105.71 L587.99 104.63 L588.99 100.98 L588.99 97.13 L589.59 97.13 L589.59 93.27 L590.2 93.27 L591.09 89.76 L591.09 87.19 L593.3 87.19 L594.63 86.24 L594.63 80.56 L595.85 80.56 L596.74 79.62 L598.51 79.21 L598.95 77.45 L599.39 71.24 L600.28 69.48 L600.28 65.15 L602.05 65.15 L602.05 62.45 L603.82 62.45 L603.82 60.82 L606.03 60.82 L606.03 58.93 L609.91 58.93 L609.91 56.9 L612.79 56.9 L612.79 55.15 L618.65 55.15 L618.65 51.63 L623.41 51.63 L623.41 49.87 L626.85 49.87 L626.85 48.66 L631.05 48.66 L631.05 45.82 L633.93 45.82 L633.93 45.21 L637.42 45.21 L637.42 44.6 L640.9 44.6 L640.9 41.76 L645 41.76 L645 41.36 L649.47 41.36 L649.47 40.95 L653.93 40.95 L653.93 40.54 L658.39 40.54 L658.39 38.79 L667.25 38.25 L675 37.3" fill="none" stroke="#1f9e80" stroke-width="1.9" stroke-linejoin="miter"/>
<path d="M564.3 172.5 L564.3 171.15 L566.07 171.15 L566.62 166.15 L568.06 165.06 L569.17 161.55 L569.17 160.06 L571.16 160.06 L572.16 151.95 L572.16 150.46 L574.15 150.46 L575.26 146.81 L575.26 145.32 L577.25 145.32 L578.25 141.13 L581.9 140.73 L582.45 123.96 L584.34 122.88 L584.89 113.15 L584.89 111.66 L587.55 111.66 L588.54 109.77 L588.54 108.55 L590.54 108.55 L590.98 106.12 L590.98 101.45 L592.03 101.45 L592.03 96.79 L593.08 96.79 L593.08 94.08 L596.79 94.08 L596.79 91.38 L600.5 91.38 L600.5 78.81 L602.49 78.81 L602.49 71.37 L618.65 71.37 L618.65 60.96 L632.71 60.96 L632.71 57.44 L645 57.44 L645 53.93 L648.54 53.93 L648.54 47.44 L661.27 47.44 L661.27 40.54 L663.6 40.54 L663.6 38.79 L666.03 38.79 L666.03 37.84 L675 37.3" fill="none" stroke="#3b5a94" stroke-width="1.9" stroke-linejoin="miter"/>
<line x1="558.5" y1="30.3" x2="558.5" y2="179.7" stroke="#111" stroke-width="1.8" stroke-linecap="butt"/>
<line x1="557.6" y1="178.8" x2="680.2" y2="178.8" stroke="#111" stroke-width="1.8" stroke-linecap="butt"/>
<rect x="591.2" y="88.3" width="67.9" height="19.3" rx="0.8" fill="#2a9f84" stroke="#111" stroke-width="0.9"/>
<text x="625.15" y="96.2" font-size="7" text-anchor="middle" fill="#000" font-weight="normal">AUC (All) = 0.75</text>
<text x="625.15" y="105.6" font-size="7" text-anchor="middle" fill="#000" font-weight="normal">(95% CI: 0.68−0.82)</text>
<rect x="588.9" y="115.7" width="71.9" height="18.4" rx="0.8" fill="#3d5d97" stroke="#3d5d97" stroke-width="0.9"/>
<text x="624.85" y="123.6" font-size="7" text-anchor="middle" fill="#fff" font-weight="normal">AUC (IC&lt;0.25) = 0.68</text>
<text x="624.85" y="133" font-size="7" text-anchor="middle" fill="#fff" font-weight="normal">(95% CI: 0.56−0.79)</text>
<rect x="588.5" y="149.2" width="73.2" height="19.4" rx="0.8" fill="#d8c99c" stroke="#333" stroke-width="0.9"/>
<text x="625.1" y="157.1" font-size="7" text-anchor="middle" fill="#000" font-weight="normal">AUC (IC&gt;0.25) = 0.83</text>
<text x="625.1" y="166.5" font-size="7" text-anchor="middle" fill="#000" font-weight="normal">(95% CI: 0.74−0.91)</text>
<text x="552.6" y="177.4" font-size="10.5" text-anchor="end" fill="#4d4d4d" font-weight="normal">0.00</text>
<text x="564.3" y="193.5" font-size="10.5" text-anchor="middle" fill="#4d4d4d" font-weight="normal">0.00</text>
<text x="552.6" y="143.5" font-size="10.5" text-anchor="end" fill="#4d4d4d" font-weight="normal">0.25</text>
<text x="591.97" y="193.5" font-size="10.5" text-anchor="middle" fill="#4d4d4d" font-weight="normal">0.25</text>
<text x="552.6" y="109.6" font-size="10.5" text-anchor="end" fill="#4d4d4d" font-weight="normal">0.50</text>
<text x="619.65" y="193.5" font-size="10.5" text-anchor="middle" fill="#4d4d4d" font-weight="normal">0.50</text>
<text x="552.6" y="75.7" font-size="10.5" text-anchor="end" fill="#4d4d4d" font-weight="normal">0.75</text>
<text x="647.32" y="193.5" font-size="10.5" text-anchor="middle" fill="#4d4d4d" font-weight="normal">0.75</text>
<text x="552.6" y="41.8" font-size="10.5" text-anchor="end" fill="#4d4d4d" font-weight="normal">1.00</text>
<text x="675" y="193.5" font-size="10.5" text-anchor="middle" fill="#4d4d4d" font-weight="normal">1.00</text>
<text x="619.9" y="233.3" font-size="13" text-anchor="middle" fill="#000" font-weight="normal">1 – Specificity</text>
<text x="527.4" y="104.8" font-size="13" text-anchor="middle" fill="#000" font-weight="normal" transform="rotate(-90 527.4 104.8)">Sensitivity</text>
<text x="-0.6" y="262.2" font-size="15" text-anchor="start" fill="#000" font-weight="bold">e</text>
<line x1="41.6" y1="420.85" x2="163.9" y2="420.85" stroke="#ebebeb" stroke-width="1" stroke-linecap="butt"/>
<line x1="41.6" y1="407.3" x2="163.9" y2="407.3" stroke="#ebebeb" stroke-width="1" stroke-linecap="butt"/>
<line x1="41.6" y1="393.75" x2="163.9" y2="393.75" stroke="#ebebeb" stroke-width="1" stroke-linecap="butt"/>
<line x1="41.6" y1="380.2" x2="163.9" y2="380.2" stroke="#ebebeb" stroke-width="1" stroke-linecap="butt"/>
<line x1="41.6" y1="366.65" x2="163.9" y2="366.65" stroke="#ebebeb" stroke-width="1" stroke-linecap="butt"/>
<line x1="41.6" y1="353.1" x2="163.9" y2="353.1" stroke="#ebebeb" stroke-width="1" stroke-linecap="butt"/>
<line x1="41.6" y1="339.55" x2="163.9" y2="339.55" stroke="#ebebeb" stroke-width="1" stroke-linecap="butt"/>
<line x1="41.6" y1="326" x2="163.9" y2="326" stroke="#ebebeb" stroke-width="1" stroke-linecap="butt"/>
<line x1="41.6" y1="312.45" x2="163.9" y2="312.45" stroke="#ebebeb" stroke-width="1" stroke-linecap="butt"/>
<line x1="41.6" y1="298.9" x2="163.9" y2="298.9" stroke="#ebebeb" stroke-width="1" stroke-linecap="butt"/>
<line x1="41.6" y1="285.35" x2="163.9" y2="285.35" stroke="#ebebeb" stroke-width="1" stroke-linecap="butt"/>
<line x1="47.2" y1="281.2" x2="47.2" y2="429.3" stroke="#ebebeb" stroke-width="1" stroke-linecap="butt"/>
<line x1="61.62" y1="281.2" x2="61.62" y2="429.3" stroke="#ebebeb" stroke-width="1" stroke-linecap="butt"/>
<line x1="76.05" y1="281.2" x2="76.05" y2="429.3" stroke="#ebebeb" stroke-width="1" stroke-linecap="butt"/>
<line x1="90.48" y1="281.2" x2="90.48" y2="429.3" stroke="#ebebeb" stroke-width="1" stroke-linecap="butt"/>
<line x1="104.9" y1="281.2" x2="104.9" y2="429.3" stroke="#ebebeb" stroke-width="1" stroke-linecap="butt"/>
<line x1="119.33" y1="281.2" x2="119.33" y2="429.3" stroke="#ebebeb" stroke-width="1" stroke-linecap="butt"/>
<line x1="133.75" y1="281.2" x2="133.75" y2="429.3" stroke="#ebebeb" stroke-width="1" stroke-linecap="butt"/>
<line x1="148.18" y1="281.2" x2="148.18" y2="429.3" stroke="#ebebeb" stroke-width="1" stroke-linecap="butt"/>
<line x1="162.6" y1="281.2" x2="162.6" y2="429.3" stroke="#ebebeb" stroke-width="1" stroke-linecap="butt"/>
<g fill="#009ed5" fill-opacity="0.45"><circle cx="49" cy="290.4" r="2.1"/><circle cx="46.9" cy="293.1" r="2.1"/><circle cx="52.8" cy="294.5" r="2.1"/><circle cx="63.8" cy="297" r="2.1"/><circle cx="47.2" cy="303.3" r="2.1"/><circle cx="53.5" cy="309" r="2.1"/><circle cx="46.9" cy="313" r="2.1"/><circle cx="53.2" cy="314.8" r="2.1"/><circle cx="47.3" cy="315.3" r="2.1"/><circle cx="74.9" cy="317.6" r="2.1"/><circle cx="97.1" cy="322.1" r="2.1"/><circle cx="47.8" cy="329.6" r="2.1"/><circle cx="46.9" cy="334.8" r="2.1"/><circle cx="64.1" cy="333.8" r="2.1"/><circle cx="70.9" cy="337.7" r="2.1"/><circle cx="81.3" cy="337" r="2.1"/><circle cx="84" cy="337" r="2.1"/><circle cx="93" cy="338.6" r="2.1"/><circle cx="102.5" cy="315.3" r="2.1"/><circle cx="60" cy="330.2" r="2.1"/><circle cx="116.9" cy="315.7" r="2.1"/><circle cx="129.6" cy="319.4" r="2.1"/><circle cx="106.1" cy="321.6" r="2.1"/><circle cx="103.8" cy="315.3" r="2.1"/><circle cx="143.6" cy="323.4" r="2.1"/><circle cx="147.7" cy="321.6" r="2.1"/><circle cx="119.2" cy="328.9" r="2.1"/><circle cx="129.1" cy="329.8" r="2.1"/><circle cx="131" cy="325.2" r="2.1"/><circle cx="143.2" cy="330.2" r="2.1"/><circle cx="149.1" cy="335.2" r="2.1"/><circle cx="156.8" cy="332.5" r="2.1"/><circle cx="109.7" cy="337" r="2.1"/><circle cx="152.7" cy="336.1" r="2.1"/><circle cx="133.2" cy="334.3" r="2.1"/><circle cx="123.7" cy="337.9" r="2.1"/><circle cx="140" cy="334.3" r="2.1"/><circle cx="47.3" cy="350.6" r="2.1"/><circle cx="62.2" cy="344.8" r="2.1"/><circle cx="94.5" cy="344.3" r="2.1"/><circle cx="93.6" cy="347" r="2.1"/><circle cx="107.8" cy="343" r="2.1"/><circle cx="107.4" cy="345.5" r="2.1"/><circle cx="127.2" cy="345.2" r="2.1"/><circle cx="106" cy="350.9" r="2.1"/><circle cx="85" cy="352.7" r="2.1"/><circle cx="89.1" cy="355.1" r="2.1"/><circle cx="107.4" cy="356.9" r="2.1"/><circle cx="116.4" cy="355.6" r="2.1"/><circle cx="120.9" cy="359.9" r="2.1"/><circle cx="122.7" cy="359.2" r="2.1"/><circle cx="144.2" cy="353.8" r="2.1"/><circle cx="94.9" cy="365.8" r="2.1"/><circle cx="90.4" cy="423.3" r="2.1"/><circle cx="120" cy="341.2" r="2.1"/><circle cx="50.73" cy="324.81" r="2.1"/><circle cx="60.45" cy="325.68" r="2.1"/><circle cx="66.62" cy="327.51" r="2.1"/><circle cx="73.16" cy="328.01" r="2.1"/><circle cx="82.78" cy="331.49" r="2.1"/><circle cx="88.47" cy="328.96" r="2.1"/><circle cx="96.29" cy="333.74" r="2.1"/><circle cx="106.54" cy="329.98" r="2.1"/><circle cx="115.53" cy="337.86" r="2.1"/><circle cx="122.05" cy="336.45" r="2.1"/><circle cx="127.9" cy="333.16" r="2.1"/><circle cx="137.22" cy="334.95" r="2.1"/><circle cx="143.71" cy="337.24" r="2.1"/><circle cx="150.9" cy="339.93" r="2.1"/></g>
<g fill="#ac393e" fill-opacity="0.45"><circle cx="51.9" cy="295.4" r="2.1"/><circle cx="68.6" cy="297.6" r="2.1"/><circle cx="46.9" cy="299.5" r="2.1"/><circle cx="49.6" cy="299.5" r="2.1"/><circle cx="51.9" cy="300.4" r="2.1"/><circle cx="49.1" cy="304.4" r="2.1"/><circle cx="47.3" cy="309.9" r="2.1"/><circle cx="66.8" cy="309.7" r="2.1"/><circle cx="48.2" cy="311.2" r="2.1"/><circle cx="91.7" cy="300.8" r="2.1"/><circle cx="80.8" cy="318.5" r="2.1"/><circle cx="100.3" cy="317.1" r="2.1"/><circle cx="49.1" cy="318" r="2.1"/><circle cx="65.4" cy="337" r="2.1"/><circle cx="80.8" cy="334.3" r="2.1"/><circle cx="95.3" cy="338.8" r="2.1"/><circle cx="79" cy="340.2" r="2.1"/><circle cx="85.3" cy="341.4" r="2.1"/><circle cx="102.5" cy="308" r="2.1"/><circle cx="47.8" cy="319.8" r="2.1"/><circle cx="151.8" cy="288" r="2.1"/><circle cx="104.5" cy="308.1" r="2.1"/><circle cx="116" cy="308.8" r="2.1"/><circle cx="124.6" cy="315.3" r="2.1"/><circle cx="128.2" cy="315.7" r="2.1"/><circle cx="135" cy="315.3" r="2.1"/><circle cx="143.6" cy="318.7" r="2.1"/><circle cx="148.6" cy="316.7" r="2.1"/><circle cx="153.1" cy="317.1" r="2.1"/><circle cx="118.3" cy="320.7" r="2.1"/><circle cx="123.7" cy="322.5" r="2.1"/><circle cx="132.8" cy="323.4" r="2.1"/><circle cx="138.2" cy="325.2" r="2.1"/><circle cx="155.4" cy="322.5" r="2.1"/><circle cx="158.1" cy="327.1" r="2.1"/><circle cx="151.3" cy="319.8" r="2.1"/><circle cx="110.6" cy="328.9" r="2.1"/><circle cx="111" cy="339.3" r="2.1"/><circle cx="105.6" cy="315.7" r="2.1"/><circle cx="52.7" cy="347.3" r="2.1"/><circle cx="77.8" cy="346.6" r="2.1"/><circle cx="85.5" cy="341.6" r="2.1"/><circle cx="76.4" cy="356" r="2.1"/><circle cx="78.2" cy="364.4" r="2.1"/><circle cx="103" cy="354.2" r="2.1"/><circle cx="109.8" cy="354.7" r="2.1"/><circle cx="133" cy="352.7" r="2.1"/><circle cx="143.7" cy="351.5" r="2.1"/><circle cx="79.6" cy="340.2" r="2.1"/><circle cx="51.37" cy="322.52" r="2.1"/><circle cx="60.91" cy="322.1" r="2.1"/><circle cx="70.06" cy="322.99" r="2.1"/><circle cx="79.12" cy="321.44" r="2.1"/><circle cx="90.5" cy="326.69" r="2.1"/><circle cx="99.1" cy="325.68" r="2.1"/><circle cx="106.22" cy="323.4" r="2.1"/><circle cx="115.34" cy="323.2" r="2.1"/><circle cx="126.48" cy="326.11" r="2.1"/><circle cx="136.02" cy="326.82" r="2.1"/><circle cx="145.69" cy="330.39" r="2.1"/><circle cx="151.09" cy="327.01" r="2.1"/></g>
<path d="M47 320 L49.74 320.59 L52.48 321.18 L55.23 321.76 L57.97 322.34 L60.71 322.91 L63.45 323.47 L66.2 324.01 L68.94 324.55 L71.68 325.07 L74.42 325.58 L77.17 326.08 L79.91 326.55 L82.65 327.01 L85.39 327.45 L88.14 327.88 L90.88 328.28 L93.62 328.67 L96.36 329.04 L99.11 329.39 L101.85 329.73 L104.59 330.06 L107.33 330.37 L110.08 330.68 L112.82 330.98 L115.56 331.27 L118.3 331.55 L121.05 331.82 L123.79 332.09 L126.53 332.36 L129.27 332.62 L132.02 332.88 L134.76 333.14 L137.5 333.39 L140.25 333.64 L142.99 333.89 L145.73 334.13 L148.47 334.38 L151.21 334.62 L153.96 334.86 L156.7 335.1 L156.7 347.1 L153.96 346.47 L151.21 345.85 L148.47 345.23 L145.73 344.61 L142.99 343.99 L140.25 343.37 L137.5 342.76 L134.76 342.14 L132.02 341.53 L129.27 340.93 L126.53 340.32 L123.79 339.73 L121.05 339.13 L118.3 338.54 L115.56 337.96 L112.82 337.38 L110.08 336.81 L107.33 336.26 L104.59 335.71 L101.85 335.17 L99.11 334.64 L96.36 334.13 L93.62 333.64 L90.88 333.16 L88.14 332.7 L85.39 332.26 L82.65 331.83 L79.91 331.43 L77.17 331.04 L74.42 330.67 L71.68 330.31 L68.94 329.97 L66.2 329.64 L63.45 329.32 L60.71 329.02 L57.97 328.72 L55.23 328.43 L52.48 328.15 L49.74 327.87 L47 327.6Z" fill="#009ed5" fill-opacity="0.4"/>
<line x1="47" y1="323.8" x2="156.7" y2="341.1" stroke="#009ed5" stroke-width="2.3" stroke-linecap="butt"/>
<path d="M47 317.1 L49.77 317.44 L52.53 317.78 L55.3 318.11 L58.07 318.44 L60.84 318.76 L63.6 319.08 L66.37 319.39 L69.14 319.69 L71.91 319.99 L74.67 320.27 L77.44 320.55 L80.21 320.82 L82.98 321.07 L85.74 321.32 L88.51 321.55 L91.28 321.77 L94.05 321.98 L96.81 322.18 L99.58 322.37 L102.35 322.55 L105.12 322.72 L107.88 322.88 L110.65 323.04 L113.42 323.18 L116.19 323.33 L118.95 323.46 L121.72 323.59 L124.49 323.72 L127.26 323.84 L130.02 323.96 L132.79 324.07 L135.56 324.18 L138.33 324.29 L141.09 324.4 L143.86 324.5 L146.63 324.6 L149.4 324.71 L152.16 324.81 L154.93 324.9 L157.7 325 L157.7 333.6 L154.93 333.24 L152.16 332.87 L149.4 332.51 L146.63 332.16 L143.86 331.8 L141.09 331.44 L138.33 331.09 L135.56 330.74 L132.79 330.39 L130.02 330.04 L127.26 329.7 L124.49 329.36 L121.72 329.03 L118.95 328.7 L116.19 328.37 L113.42 328.06 L110.65 327.74 L107.88 327.44 L105.12 327.14 L102.35 326.85 L99.58 326.57 L96.81 326.3 L94.05 326.04 L91.28 325.79 L88.51 325.55 L85.74 325.32 L82.98 325.11 L80.21 324.9 L77.44 324.71 L74.67 324.53 L71.91 324.35 L69.14 324.19 L66.37 324.03 L63.6 323.88 L60.84 323.74 L58.07 323.6 L55.3 323.47 L52.53 323.34 L49.77 323.22 L47 323.1Z" fill="#ac393e" fill-opacity="0.4"/>
<line x1="47" y1="320.1" x2="157.7" y2="329.3" stroke="#ac393e" stroke-width="2.3" stroke-linecap="butt"/>
<text x="47.9" y="393.5" font-size="10.5" fill="#1ba1d9" textLength="102.3" lengthAdjust="spacingAndGlyphs" xml:space="preserve"><tspan font-style="italic">R</tspan> = −0.31, <tspan font-style="italic">p</tspan> = 0.0027</text>
<text x="47.9" y="407.4" font-size="10.5" fill="#b13a3c" textLength="89.9" lengthAdjust="spacingAndGlyphs" xml:space="preserve"><tspan font-style="italic">R</tspan> = −0.2, <tspan font-style="italic">p</tspan> = 0.057</text>
<text x="36.6" y="411" font-size="10.5" text-anchor="end" fill="#4d4d4d" font-weight="normal">−3</text>
<text x="36.6" y="383.9" font-size="10.5" text-anchor="end" fill="#4d4d4d" font-weight="normal">−2</text>
<text x="36.6" y="356.8" font-size="10.5" text-anchor="end" fill="#4d4d4d" font-weight="normal">−1</text>
<text x="36.6" y="329.7" font-size="10.5" text-anchor="end" fill="#4d4d4d" font-weight="normal">0</text>
<text x="36.6" y="302.6" font-size="10.5" text-anchor="end" fill="#4d4d4d" font-weight="normal">1</text>
<text x="47.2" y="443.8" font-size="10.5" text-anchor="middle" fill="#4d4d4d" font-weight="normal">0.00</text>
<text x="76.05" y="443.8" font-size="10.5" text-anchor="middle" fill="#4d4d4d" font-weight="normal">0.25</text>
<text x="104.9" y="443.8" font-size="10.5" text-anchor="middle" fill="#4d4d4d" font-weight="normal">0.50</text>
<text x="133.75" y="443.8" font-size="10.5" text-anchor="middle" fill="#4d4d4d" font-weight="normal">0.75</text>
<text x="162.6" y="443.8" font-size="10.5" text-anchor="middle" fill="#4d4d4d" font-weight="normal">1.00</text>
<text x="102.4" y="484" font-size="13" text-anchor="middle" fill="#000" font-weight="normal">immune cell proportion</text>
<text x="17" y="355.3" font-size="13" text-anchor="middle" fill="#000" font-weight="normal" transform="rotate(-90 17 355.3)">WID–cervical–BC index</text>
<text x="177" y="262.2" font-size="15" text-anchor="start" fill="#000" font-weight="bold">f</text>
<line x1="227.4" y1="420.85" x2="349.9" y2="420.85" stroke="#ebebeb" stroke-width="1" stroke-linecap="butt"/>
<line x1="227.4" y1="407.3" x2="349.9" y2="407.3" stroke="#ebebeb" stroke-width="1" stroke-linecap="butt"/>
<line x1="227.4" y1="393.75" x2="349.9" y2="393.75" stroke="#ebebeb" stroke-width="1" stroke-linecap="butt"/>
<line x1="227.4" y1="380.2" x2="349.9" y2="380.2" stroke="#ebebeb" stroke-width="1" stroke-linecap="butt"/>
<line x1="227.4" y1="366.65" x2="349.9" y2="366.65" stroke="#ebebeb" stroke-width="1" stroke-linecap="butt"/>
<line x1="227.4" y1="353.1" x2="349.9" y2="353.1" stroke="#ebebeb" stroke-width="1" stroke-linecap="butt"/>
<line x1="227.4" y1="339.55" x2="349.9" y2="339.55" stroke="#ebebeb" stroke-width="1" stroke-linecap="butt"/>
<line x1="227.4" y1="326" x2="349.9" y2="326" stroke="#ebebeb" stroke-width="1" stroke-linecap="butt"/>
<line x1="227.4" y1="312.45" x2="349.9" y2="312.45" stroke="#ebebeb" stroke-width="1" stroke-linecap="butt"/>
<line x1="227.4" y1="298.9" x2="349.9" y2="298.9" stroke="#ebebeb" stroke-width="1" stroke-linecap="butt"/>
<line x1="227.4" y1="285.35" x2="349.9" y2="285.35" stroke="#ebebeb" stroke-width="1" stroke-linecap="butt"/>
<line x1="231.8" y1="281.2" x2="231.8" y2="429.3" stroke="#ebebeb" stroke-width="1" stroke-linecap="butt"/>
<line x1="250.72" y1="281.2" x2="250.72" y2="429.3" stroke="#ebebeb" stroke-width="1" stroke-linecap="butt"/>
<line x1="269.64" y1="281.2" x2="269.64" y2="429.3" stroke="#ebebeb" stroke-width="1" stroke-linecap="butt"/>
<line x1="288.56" y1="281.2" x2="288.56" y2="429.3" stroke="#ebebeb" stroke-width="1" stroke-linecap="butt"/>
<line x1="307.48" y1="281.2" x2="307.48" y2="429.3" stroke="#ebebeb" stroke-width="1" stroke-linecap="butt"/>
<line x1="326.4" y1="281.2" x2="326.4" y2="429.3" stroke="#ebebeb" stroke-width="1" stroke-linecap="butt"/>
<line x1="345.32" y1="281.2" x2="345.32" y2="429.3" stroke="#ebebeb" stroke-width="1" stroke-linecap="butt"/>
<g fill="#009ed5" fill-opacity="0.45"><circle cx="278.1" cy="294.5" r="2.1"/><circle cx="275.9" cy="297" r="2.1"/><circle cx="271.3" cy="313.3" r="2.1"/><circle cx="276.3" cy="314.8" r="2.1"/><circle cx="278.1" cy="315.7" r="2.1"/><circle cx="281.8" cy="318" r="2.1"/><circle cx="286.7" cy="316.7" r="2.1"/><circle cx="268.2" cy="319.8" r="2.1"/><circle cx="268.2" cy="322.5" r="2.1"/><circle cx="278.6" cy="322.1" r="2.1"/><circle cx="285.4" cy="322.1" r="2.1"/><circle cx="241.9" cy="324.8" r="2.1"/><circle cx="252.8" cy="326.3" r="2.1"/><circle cx="268.2" cy="328.4" r="2.1"/><circle cx="274.1" cy="329.3" r="2.1"/><circle cx="264.1" cy="336.6" r="2.1"/><circle cx="270.4" cy="337.9" r="2.1"/><circle cx="274.1" cy="336.1" r="2.1"/><circle cx="281.3" cy="338.8" r="2.1"/><circle cx="283.1" cy="339.3" r="2.1"/><circle cx="317.2" cy="293.1" r="2.1"/><circle cx="322.9" cy="290.7" r="2.1"/><circle cx="327.7" cy="303.3" r="2.1"/><circle cx="326.6" cy="309" r="2.1"/><circle cx="313" cy="315.5" r="2.1"/><circle cx="323.4" cy="316.7" r="2.1"/><circle cx="291.3" cy="318.9" r="2.1"/><circle cx="297.6" cy="321.6" r="2.1"/><circle cx="299.9" cy="321.6" r="2.1"/><circle cx="331.5" cy="328" r="2.1"/><circle cx="338.3" cy="324.3" r="2.1"/><circle cx="320.7" cy="329.3" r="2.1"/><circle cx="292.6" cy="329.8" r="2.1"/><circle cx="302.1" cy="336.6" r="2.1"/><circle cx="307.1" cy="338.8" r="2.1"/><circle cx="298" cy="339.7" r="2.1"/><circle cx="318" cy="336.1" r="2.1"/><circle cx="329.3" cy="335.7" r="2.1"/><circle cx="339.2" cy="336.1" r="2.1"/><circle cx="292.6" cy="337" r="2.1"/><circle cx="343.3" cy="340.2" r="2.1"/><circle cx="310.7" cy="326.2" r="2.1"/><circle cx="323.4" cy="326.2" r="2.1"/><circle cx="233.3" cy="344.9" r="2.1"/><circle cx="285.8" cy="345.2" r="2.1"/><circle cx="289.5" cy="344.3" r="2.1"/><circle cx="293.1" cy="343.1" r="2.1"/><circle cx="288" cy="352.5" r="2.1"/><circle cx="319.3" cy="347.1" r="2.1"/><circle cx="319" cy="351" r="2.1"/><circle cx="329.3" cy="345.2" r="2.1"/><circle cx="336.5" cy="351" r="2.1"/><circle cx="294" cy="359.4" r="2.1"/><circle cx="299.4" cy="357" r="2.1"/><circle cx="302.1" cy="355.2" r="2.1"/><circle cx="313" cy="354.8" r="2.1"/><circle cx="317.9" cy="360.1" r="2.1"/><circle cx="265.9" cy="365.7" r="2.1"/><circle cx="283.7" cy="423.4" r="2.1"/><circle cx="343.8" cy="341.6" r="2.1"/><circle cx="239.64" cy="332.94" r="2.1"/><circle cx="249.12" cy="332.35" r="2.1"/><circle cx="254.69" cy="333.93" r="2.1"/><circle cx="266.71" cy="331.32" r="2.1"/><circle cx="273.15" cy="331.7" r="2.1"/><circle cx="285.86" cy="334.58" r="2.1"/><circle cx="291.67" cy="330.95" r="2.1"/><circle cx="300.8" cy="329.57" r="2.1"/><circle cx="312.79" cy="330.3" r="2.1"/><circle cx="321.04" cy="332.12" r="2.1"/><circle cx="328.76" cy="334.05" r="2.1"/><circle cx="337.72" cy="333.36" r="2.1"/></g>
<g fill="#ac393e" fill-opacity="0.45"><circle cx="271.3" cy="288" r="2.1"/><circle cx="283.8" cy="301" r="2.1"/><circle cx="276.3" cy="306.9" r="2.1"/><circle cx="265.9" cy="308.2" r="2.1"/><circle cx="261.2" cy="315.7" r="2.1"/><circle cx="265.2" cy="316.7" r="2.1"/><circle cx="273.9" cy="318.9" r="2.1"/><circle cx="279.5" cy="312.1" r="2.1"/><circle cx="281.3" cy="314.4" r="2.1"/><circle cx="253.1" cy="322.4" r="2.1"/><circle cx="233.8" cy="337.5" r="2.1"/><circle cx="288.5" cy="318.9" r="2.1"/><circle cx="267.7" cy="322.5" r="2.1"/><circle cx="298" cy="295.6" r="2.1"/><circle cx="292.2" cy="301.9" r="2.1"/><circle cx="307.6" cy="299.7" r="2.1"/><circle cx="302.4" cy="308.8" r="2.1"/><circle cx="328.4" cy="297.6" r="2.1"/><circle cx="327.5" cy="299.5" r="2.1"/><circle cx="337" cy="299.5" r="2.1"/><circle cx="330.8" cy="303.7" r="2.1"/><circle cx="319" cy="309.9" r="2.1"/><circle cx="326.6" cy="311.2" r="2.1"/><circle cx="299.9" cy="314.6" r="2.1"/><circle cx="299.9" cy="318.7" r="2.1"/><circle cx="308" cy="316.9" r="2.1"/><circle cx="318" cy="317.1" r="2.1"/><circle cx="294.4" cy="320.3" r="2.1"/><circle cx="290.4" cy="318.5" r="2.1"/><circle cx="299.9" cy="327.1" r="2.1"/><circle cx="322.9" cy="339.3" r="2.1"/><circle cx="344.2" cy="334.3" r="2.1"/><circle cx="316.1" cy="316.2" r="2.1"/><circle cx="245.1" cy="351.2" r="2.1"/><circle cx="268.3" cy="352.8" r="2.1"/><circle cx="278.6" cy="354.3" r="2.1"/><circle cx="287.6" cy="347.4" r="2.1"/><circle cx="303.4" cy="346.1" r="2.1"/><circle cx="300.9" cy="353.9" r="2.1"/><circle cx="306.1" cy="355.7" r="2.1"/><circle cx="259.2" cy="364.2" r="2.1"/><circle cx="283.1" cy="341.3" r="2.1"/><circle cx="237.39" cy="329.47" r="2.1"/><circle cx="248.81" cy="327.56" r="2.1"/><circle cx="262.88" cy="329.53" r="2.1"/><circle cx="271.26" cy="329.28" r="2.1"/><circle cx="281.92" cy="325.4" r="2.1"/><circle cx="295.54" cy="325.69" r="2.1"/><circle cx="303.56" cy="327.07" r="2.1"/><circle cx="315.05" cy="321.68" r="2.1"/><circle cx="328.33" cy="320.93" r="2.1"/><circle cx="337.47" cy="318.6" r="2.1"/></g>
<path d="M233.4 323.2 L236.16 323.52 L238.92 323.83 L241.68 324.14 L244.44 324.45 L247.2 324.76 L249.96 325.07 L252.72 325.37 L255.48 325.67 L258.24 325.97 L261 326.27 L263.76 326.56 L266.52 326.84 L269.28 327.12 L272.04 327.39 L274.8 327.66 L277.56 327.91 L280.32 328.15 L283.08 328.39 L285.84 328.6 L288.6 328.8 L291.36 328.97 L294.12 329.13 L296.88 329.25 L299.64 329.34 L302.4 329.39 L305.16 329.41 L307.92 329.39 L310.68 329.32 L313.44 329.22 L316.2 329.09 L318.96 328.92 L321.72 328.72 L324.48 328.5 L327.24 328.25 L330 327.99 L332.76 327.72 L335.52 327.43 L338.28 327.13 L341.04 326.82 L343.8 326.5 L343.8 338.1 L341.04 337.83 L338.28 337.56 L335.52 337.31 L332.76 337.06 L330 336.83 L327.24 336.62 L324.48 336.42 L321.72 336.24 L318.96 336.09 L316.2 335.96 L313.44 335.87 L310.68 335.82 L307.92 335.8 L305.16 335.82 L302.4 335.88 L299.64 335.98 L296.88 336.12 L294.12 336.28 L291.36 336.48 L288.6 336.7 L285.84 336.94 L283.08 337.2 L280.32 337.48 L277.56 337.77 L274.8 338.07 L272.04 338.38 L269.28 338.7 L266.52 339.02 L263.76 339.35 L261 339.68 L258.24 340.02 L255.48 340.37 L252.72 340.71 L249.96 341.06 L247.2 341.41 L244.44 341.77 L241.68 342.12 L238.92 342.48 L236.16 342.84 L233.4 343.2Z" fill="#009ed5" fill-opacity="0.4"/>
<line x1="233.4" y1="333.2" x2="343.8" y2="332.3" stroke="#009ed5" stroke-width="2.3" stroke-linecap="butt"/>
<path d="M233.4 323 L236.16 323.04 L238.92 323.07 L241.68 323.11 L244.44 323.13 L247.2 323.16 L249.96 323.18 L252.72 323.19 L255.48 323.19 L258.24 323.19 L261 323.18 L263.76 323.16 L266.52 323.12 L269.28 323.07 L272.04 323.01 L274.8 322.92 L277.56 322.82 L280.32 322.69 L283.08 322.54 L285.84 322.36 L288.6 322.15 L291.36 321.9 L294.12 321.63 L296.88 321.33 L299.64 321 L302.4 320.65 L305.16 320.27 L307.92 319.87 L310.68 319.45 L313.44 319.01 L316.2 318.56 L318.96 318.1 L321.72 317.63 L324.48 317.15 L327.24 316.66 L330 316.16 L332.76 315.66 L335.52 315.15 L338.28 314.64 L341.04 314.12 L343.8 313.6 L343.8 327.6 L341.04 327.56 L338.28 327.53 L335.52 327.5 L332.76 327.48 L330 327.46 L327.24 327.45 L324.48 327.45 L321.72 327.45 L318.96 327.46 L316.2 327.49 L313.44 327.52 L310.68 327.57 L307.92 327.64 L305.16 327.72 L302.4 327.83 L299.64 327.96 L296.88 328.11 L294.12 328.3 L291.36 328.51 L288.6 328.75 L285.84 329.03 L283.08 329.33 L280.32 329.66 L277.56 330.02 L274.8 330.4 L272.04 330.8 L269.28 331.22 L266.52 331.66 L263.76 332.11 L261 332.57 L258.24 333.04 L255.48 333.53 L252.72 334.02 L249.96 334.51 L247.2 335.02 L244.44 335.53 L241.68 336.04 L238.92 336.56 L236.16 337.08 L233.4 337.6Z" fill="#ac393e" fill-opacity="0.4"/>
<line x1="233.4" y1="330.3" x2="343.8" y2="320.6" stroke="#ac393e" stroke-width="2.3" stroke-linecap="butt"/>
<text x="234" y="393.3" font-size="10.5" fill="#1ba1d9" textLength="88" lengthAdjust="spacingAndGlyphs" xml:space="preserve"><tspan font-style="italic">R</tspan> = 0.016, <tspan font-style="italic">p</tspan> = 0.88</text>
<text x="234" y="407.6" font-size="10.5" fill="#b13a3c" textLength="82.8" lengthAdjust="spacingAndGlyphs" xml:space="preserve"><tspan font-style="italic">R</tspan> = 0.15, <tspan font-style="italic">p</tspan> = 0.16</text>
<text x="221.6" y="411" font-size="10.5" text-anchor="end" fill="#4d4d4d" font-weight="normal">−3</text>
<text x="221.6" y="383.9" font-size="10.5" text-anchor="end" fill="#4d4d4d" font-weight="normal">−2</text>
<text x="221.6" y="356.8" font-size="10.5" text-anchor="end" fill="#4d4d4d" font-weight="normal">−1</text>
<text x="221.6" y="329.7" font-size="10.5" text-anchor="end" fill="#4d4d4d" font-weight="normal">0</text>
<text x="221.6" y="302.6" font-size="10.5" text-anchor="end" fill="#4d4d4d" font-weight="normal">1</text>
<text x="231.8" y="443.8" font-size="10.5" text-anchor="middle" fill="#4d4d4d" font-weight="normal">20</text>
<text x="269.64" y="443.8" font-size="10.5" text-anchor="middle" fill="#4d4d4d" font-weight="normal">40</text>
<text x="307.48" y="443.8" font-size="10.5" text-anchor="middle" fill="#4d4d4d" font-weight="normal">60</text>
<text x="345.32" y="443.8" font-size="10.5" text-anchor="middle" fill="#4d4d4d" font-weight="normal">80</text>
<text x="288.6" y="484" font-size="13" text-anchor="middle" fill="#000" font-weight="normal">Subject age</text>
<text x="194.4" y="355.3" font-size="13" text-anchor="middle" fill="#000" font-weight="normal" transform="rotate(-90 194.4 355.3)">WID–cervical–BC index</text>
<text x="358.8" y="262.2" font-size="15" text-anchor="start" fill="#000" font-weight="bold">g</text>
<line x1="413.8" y1="412.8" x2="495.2" y2="412.8" stroke="#ebebeb" stroke-width="1" stroke-linecap="butt"/>
<line x1="413.8" y1="388.9" x2="495.2" y2="388.9" stroke="#ebebeb" stroke-width="1" stroke-linecap="butt"/>
<line x1="413.8" y1="365" x2="495.2" y2="365" stroke="#ebebeb" stroke-width="1" stroke-linecap="butt"/>
<line x1="413.8" y1="341.1" x2="495.2" y2="341.1" stroke="#ebebeb" stroke-width="1" stroke-linecap="butt"/>
<line x1="413.8" y1="317.2" x2="495.2" y2="317.2" stroke="#ebebeb" stroke-width="1" stroke-linecap="butt"/>
<line x1="413.8" y1="293.3" x2="495.2" y2="293.3" stroke="#ebebeb" stroke-width="1" stroke-linecap="butt"/>
<line x1="435.8" y1="281.2" x2="435.8" y2="429.3" stroke="#ebebeb" stroke-width="1" stroke-linecap="butt"/>
<line x1="472.5" y1="281.2" x2="472.5" y2="429.3" stroke="#ebebeb" stroke-width="1" stroke-linecap="butt"/>
<line x1="435.8" y1="312.1" x2="435.8" y2="332.5" stroke="#333" stroke-width="1.2" stroke-linecap="butt"/>
<line x1="435.8" y1="347.9" x2="435.8" y2="365.6" stroke="#333" stroke-width="1.2" stroke-linecap="butt"/>
<rect x="421.5" y="332.5" width="28.4" height="15.4" fill="#009ed5" fill-opacity="0.2" stroke="#333" stroke-width="1.2"/>
<line x1="421.5" y1="339.9" x2="449.9" y2="339.9" stroke="#222" stroke-width="2.3" stroke-linecap="butt"/>
<line x1="472.5" y1="315.4" x2="472.5" y2="325.4" stroke="#333" stroke-width="1.2" stroke-linecap="butt"/>
<line x1="472.5" y1="341.5" x2="472.5" y2="361.5" stroke="#333" stroke-width="1.2" stroke-linecap="butt"/>
<rect x="458.3" y="325.4" width="28.5" height="16.1" fill="#ac393e" fill-opacity="0.2" stroke="#333" stroke-width="1.2"/>
<line x1="458.3" y1="332.6" x2="486.8" y2="332.6" stroke="#222" stroke-width="2.3" stroke-linecap="butt"/>
<g fill="#009ed5" fill-opacity="0.65"><circle cx="424.34" cy="344.77" r="1.45"/><circle cx="439.68" cy="352.28" r="1.45"/><circle cx="428.49" cy="350.79" r="1.45"/><circle cx="433.95" cy="318.31" r="1.45"/><circle cx="431.48" cy="327.3" r="1.45"/><circle cx="438.26" cy="341.56" r="1.45"/><circle cx="433.9" cy="357.96" r="1.45"/><circle cx="432.02" cy="348.88" r="1.45"/><circle cx="438.1" cy="356.87" r="1.45"/><circle cx="446.57" cy="338.33" r="1.45"/><circle cx="435.99" cy="363.69" r="1.45"/><circle cx="425.98" cy="331.89" r="1.45"/><circle cx="443.64" cy="340.78" r="1.45"/><circle cx="433.06" cy="326.37" r="1.45"/><circle cx="439.9" cy="337.53" r="1.45"/><circle cx="434.1" cy="352.77" r="1.45"/><circle cx="441.35" cy="340.78" r="1.45"/><circle cx="431.17" cy="343.57" r="1.45"/><circle cx="445.4" cy="345.47" r="1.45"/><circle cx="434.87" cy="316.43" r="1.45"/><circle cx="434.4" cy="312.61" r="1.45"/><circle cx="437.18" cy="361.07" r="1.45"/><circle cx="424.94" cy="340.08" r="1.45"/><circle cx="435.28" cy="338.82" r="1.45"/><circle cx="447.64" cy="334.86" r="1.45"/><circle cx="443.32" cy="345.96" r="1.45"/><circle cx="445.19" cy="332.32" r="1.45"/><circle cx="436.93" cy="343.5" r="1.45"/><circle cx="426.9" cy="332.98" r="1.45"/><circle cx="424.78" cy="336.2" r="1.45"/><circle cx="435.15" cy="349.02" r="1.45"/><circle cx="429.34" cy="328.84" r="1.45"/><circle cx="435.33" cy="353.32" r="1.45"/><circle cx="423.12" cy="347.88" r="1.45"/><circle cx="438.01" cy="325.32" r="1.45"/><circle cx="428.26" cy="328.28" r="1.45"/><circle cx="443.59" cy="334.95" r="1.45"/><circle cx="432.58" cy="332.85" r="1.45"/><circle cx="430.55" cy="333.6" r="1.45"/><circle cx="432.7" cy="326.72" r="1.45"/><circle cx="439.78" cy="350.5" r="1.45"/><circle cx="438.42" cy="353.71" r="1.45"/><circle cx="444.3" cy="334.93" r="1.45"/><circle cx="440.42" cy="343.12" r="1.45"/><circle cx="427.48" cy="343.83" r="1.45"/><circle cx="425.14" cy="347.84" r="1.45"/><circle cx="431.37" cy="326.83" r="1.45"/><circle cx="446.74" cy="336.21" r="1.45"/><circle cx="436.1" cy="342.35" r="1.45"/><circle cx="432.83" cy="342.14" r="1.45"/><circle cx="435.45" cy="318.86" r="1.45"/><circle cx="441" cy="333.54" r="1.45"/><circle cx="438.62" cy="344.03" r="1.45"/><circle cx="432.94" cy="329.81" r="1.45"/><circle cx="432.58" cy="323.66" r="1.45"/><circle cx="437.14" cy="319.83" r="1.45"/><circle cx="426.92" cy="338.72" r="1.45"/><circle cx="433.58" cy="351.69" r="1.45"/><circle cx="428.12" cy="331.67" r="1.45"/><circle cx="438.36" cy="353.6" r="1.45"/><circle cx="427.93" cy="338.76" r="1.45"/><circle cx="424.96" cy="334.61" r="1.45"/><circle cx="437.79" cy="334.47" r="1.45"/><circle cx="433.88" cy="327.38" r="1.45"/><circle cx="434.3" cy="362.96" r="1.45"/><circle cx="436.15" cy="356.16" r="1.45"/><circle cx="436.13" cy="358.49" r="1.45"/><circle cx="436.3" cy="320.75" r="1.45"/><circle cx="446.12" cy="344.16" r="1.45"/><circle cx="437.36" cy="331.5" r="1.45"/><circle cx="424.78" cy="345.56" r="1.45"/><circle cx="431.75" cy="353.11" r="1.45"/><circle cx="434.04" cy="355.42" r="1.45"/><circle cx="441.98" cy="333.69" r="1.45"/><circle cx="432.45" cy="322.65" r="1.45"/><circle cx="435.29" cy="328.66" r="1.45"/><circle cx="430.53" cy="328.71" r="1.45"/><circle cx="431.35" cy="349.6" r="1.45"/><circle cx="425.76" cy="331.84" r="1.45"/><circle cx="431.87" cy="354.12" r="1.45"/><circle cx="434.24" cy="329.51" r="1.45"/><circle cx="440.07" cy="332.34" r="1.45"/><circle cx="448.66" cy="340.04" r="1.45"/><circle cx="440.33" cy="326.74" r="1.45"/><circle cx="440.75" cy="326.41" r="1.45"/><circle cx="436.45" cy="345.84" r="1.45"/><circle cx="426.29" cy="348.17" r="1.45"/><circle cx="446.2" cy="334.22" r="1.45"/><circle cx="434.03" cy="324.32" r="1.45"/><circle cx="428.67" cy="328.95" r="1.45"/><circle cx="434.41" cy="327.16" r="1.45"/><circle cx="440.87" cy="344.31" r="1.45"/><circle cx="433.08" cy="340.56" r="1.45"/><circle cx="427.7" cy="349.63" r="1.45"/><circle cx="438.67" cy="356.41" r="1.45"/><circle cx="443.74" cy="336.37" r="1.45"/><circle cx="446.29" cy="339.59" r="1.45"/><circle cx="438.8" cy="325.15" r="1.45"/><circle cx="433.8" cy="312.66" r="1.45"/><circle cx="430.58" cy="333.34" r="1.45"/><circle cx="437.06" cy="362.27" r="1.45"/><circle cx="432.99" cy="349.19" r="1.45"/><circle cx="446.16" cy="342.65" r="1.45"/><circle cx="435.76" cy="340.72" r="1.45"/><circle cx="431.87" cy="352.67" r="1.45"/><circle cx="435.39" cy="371.5" r="1.45"/><circle cx="436.65" cy="423.7" r="1.45"/></g>
<g fill="#ac393e" fill-opacity="0.42"><circle cx="464.58" cy="330.68" r="1.45"/><circle cx="465.26" cy="324.39" r="1.45"/><circle cx="481.35" cy="343.3" r="1.45"/><circle cx="482.38" cy="327.36" r="1.45"/><circle cx="462.26" cy="326.85" r="1.45"/><circle cx="479.63" cy="322.73" r="1.45"/><circle cx="471.04" cy="356.23" r="1.45"/><circle cx="465.89" cy="344.57" r="1.45"/><circle cx="467.49" cy="327.67" r="1.45"/><circle cx="465.62" cy="335.09" r="1.45"/><circle cx="480.05" cy="339.71" r="1.45"/><circle cx="473.75" cy="319.59" r="1.45"/><circle cx="470.34" cy="348.45" r="1.45"/><circle cx="463.21" cy="324.74" r="1.45"/><circle cx="472.9" cy="319" r="1.45"/><circle cx="475.09" cy="337.95" r="1.45"/><circle cx="461.77" cy="332.48" r="1.45"/><circle cx="473.52" cy="354.1" r="1.45"/><circle cx="464.35" cy="329.87" r="1.45"/><circle cx="477.96" cy="347.38" r="1.45"/><circle cx="483.66" cy="337.35" r="1.45"/><circle cx="476.27" cy="339.08" r="1.45"/><circle cx="474.52" cy="346.35" r="1.45"/><circle cx="476.73" cy="318.52" r="1.45"/><circle cx="473.03" cy="331.11" r="1.45"/><circle cx="465.85" cy="342.14" r="1.45"/><circle cx="470.78" cy="351.02" r="1.45"/><circle cx="480.07" cy="335.62" r="1.45"/><circle cx="472.47" cy="335.42" r="1.45"/><circle cx="473.49" cy="348.05" r="1.45"/><circle cx="466.27" cy="321.92" r="1.45"/><circle cx="470.8" cy="338.27" r="1.45"/><circle cx="461.39" cy="330.87" r="1.45"/><circle cx="472.78" cy="353.88" r="1.45"/><circle cx="463.3" cy="334.87" r="1.45"/><circle cx="462.61" cy="324.11" r="1.45"/><circle cx="468.23" cy="322.06" r="1.45"/><circle cx="464.69" cy="322.55" r="1.45"/><circle cx="463.66" cy="336.93" r="1.45"/><circle cx="481.1" cy="340.66" r="1.45"/><circle cx="470.23" cy="343.97" r="1.45"/><circle cx="484.73" cy="337.2" r="1.45"/><circle cx="463.26" cy="333.93" r="1.45"/><circle cx="465.76" cy="332.49" r="1.45"/><circle cx="463.18" cy="329.23" r="1.45"/><circle cx="461.49" cy="328.87" r="1.45"/><circle cx="480.29" cy="344.57" r="1.45"/><circle cx="466.08" cy="331.74" r="1.45"/><circle cx="466.95" cy="324.02" r="1.45"/><circle cx="469.49" cy="342.94" r="1.45"/><circle cx="475.38" cy="327.93" r="1.45"/><circle cx="467.15" cy="318.43" r="1.45"/><circle cx="476.25" cy="342.48" r="1.45"/><circle cx="471.08" cy="319.19" r="1.45"/><circle cx="469.52" cy="317.34" r="1.45"/><circle cx="468.65" cy="346.73" r="1.45"/><circle cx="465.08" cy="336.75" r="1.45"/><circle cx="467.52" cy="339.5" r="1.45"/><circle cx="475.04" cy="350.57" r="1.45"/><circle cx="469.46" cy="331.85" r="1.45"/><circle cx="466.64" cy="328.52" r="1.45"/><circle cx="467.49" cy="323.79" r="1.45"/><circle cx="480.17" cy="322.04" r="1.45"/><circle cx="463.49" cy="331.28" r="1.45"/><circle cx="470.12" cy="343.81" r="1.45"/><circle cx="460.03" cy="328.28" r="1.45"/><circle cx="471.8" cy="353.98" r="1.45"/><circle cx="472.79" cy="344.92" r="1.45"/><circle cx="460.56" cy="325.68" r="1.45"/><circle cx="474.98" cy="338.04" r="1.45"/><circle cx="473.64" cy="327.82" r="1.45"/><circle cx="475.88" cy="344.18" r="1.45"/><circle cx="463.33" cy="329.89" r="1.45"/><circle cx="469.55" cy="329.78" r="1.45"/><circle cx="468.14" cy="320.77" r="1.45"/><circle cx="460.56" cy="327.93" r="1.45"/><circle cx="473.55" cy="344.46" r="1.45"/><circle cx="484.87" cy="339.48" r="1.45"/><circle cx="468.45" cy="319.79" r="1.45"/><circle cx="471.44" cy="355.67" r="1.45"/><circle cx="461.84" cy="325.92" r="1.45"/><circle cx="469.47" cy="329.32" r="1.45"/><circle cx="472.42" cy="335.23" r="1.45"/><circle cx="471.86" cy="339.17" r="1.45"/><circle cx="475.6" cy="342.76" r="1.45"/><circle cx="470.9" cy="341.7" r="1.45"/><circle cx="474.65" cy="338.62" r="1.45"/><circle cx="468.97" cy="333.44" r="1.45"/><circle cx="470.01" cy="326.53" r="1.45"/><circle cx="472.2" cy="316.77" r="1.45"/><circle cx="466.09" cy="333.04" r="1.45"/><circle cx="482.69" cy="331.4" r="1.45"/><circle cx="464.34" cy="331.28" r="1.45"/><circle cx="473.35" cy="350.26" r="1.45"/><circle cx="480.81" cy="322.44" r="1.45"/><circle cx="474.52" cy="344.47" r="1.45"/><circle cx="468.42" cy="322.12" r="1.45"/><circle cx="482.37" cy="339.16" r="1.45"/><circle cx="463.03" cy="335.4" r="1.45"/><circle cx="467.52" cy="330.81" r="1.45"/><circle cx="464.5" cy="339.32" r="1.45"/><circle cx="477.18" cy="331.62" r="1.45"/><circle cx="471.34" cy="347.54" r="1.45"/><circle cx="472.33" cy="332.69" r="1.45"/><circle cx="473.08" cy="316.67" r="1.45"/><circle cx="484.69" cy="327.63" r="1.45"/><circle cx="470.25" cy="318.41" r="1.45"/><circle cx="473.39" cy="353.02" r="1.45"/><circle cx="471.14" cy="354.27" r="1.45"/><circle cx="472.26" cy="327.6" r="1.45"/><circle cx="472.63" cy="294.4" r="1.45"/><circle cx="472.24" cy="372.3" r="1.45"/></g>
<path d="M435.8 291.7 V287.7 H472.5 V291.7" fill="none" stroke="#222" stroke-width="1.2"/>
<text x="454.1" y="283.9" font-size="9.8" text-anchor="middle" fill="#111" font-weight="normal" textLength="33.9" lengthAdjust="spacingAndGlyphs">0.00019</text>
<text x="407.5" y="392.6" font-size="10.5" text-anchor="end" fill="#4d4d4d" font-weight="normal">−2</text>
<text x="407.5" y="344.8" font-size="10.5" text-anchor="end" fill="#4d4d4d" font-weight="normal">0</text>
<text x="407.5" y="297" font-size="10.5" text-anchor="end" fill="#4d4d4d" font-weight="normal">2</text>
<text x="440.9" y="441.8" font-size="10.5" text-anchor="end" fill="#4d4d4d" font-weight="normal" transform="rotate(-45 440.9 441.8)">Control</text>
<text x="477.6" y="441.8" font-size="10.5" text-anchor="end" fill="#4d4d4d" font-weight="normal" transform="rotate(-45 477.6 441.8)">BC case</text>
<text x="380.7" y="355.3" font-size="13" text-anchor="middle" fill="#000" font-weight="normal" transform="rotate(-90 380.7 355.3)">WID–cervical–BC index (adjusted)</text>
<text x="508.3" y="262.2" font-size="15" text-anchor="start" fill="#000" font-weight="bold">h</text>
<line x1="564.1" y1="423.3" x2="674.8" y2="287.7" stroke="#858585" stroke-width="1.1" stroke-linecap="butt"/>
<path d="M564.1 423.3 L564.1 395.91 L566.2 395.91 L566.2 393.2 L570.3 393.2 L570.3 384.52 L578.6 384.52 L578.6 362.96 L580.59 362.96 L580.59 351.57 L580.59 350.08 L582.59 350.08 L582.59 347.23 L584.03 347.23 L586.46 346.28 L586.46 342.89 L587.79 342.89 L587.79 341.53 L590.56 341.53 L590.56 337.74 L595.98 337.74 L596.54 335.57 L601.74 335.57 L601.74 332.58 L606.5 332.58 L606.5 326.48 L611.04 326.48 L611.04 323.5 L615.46 323.5 L615.46 317.94 L620.34 317.94 L620.34 314.55 L625.21 314.55 L625.21 311.57 L627.42 311.57 L627.75 305.6 L629.63 305.6 L629.63 299.36 L653.55 299.36 L653.55 296.51 L662.84 296.51 L662.84 293.94 L664.84 293.94 L665.28 287.7 L674.8 287.7" fill="none" stroke="#d6c79d" stroke-width="1.9" stroke-linejoin="miter"/>
<path d="M564.1 423.3 L564.1 421.27 L568.2 421.27 L568.2 396.99 L569.86 396.04 L571.3 395.5 L572.4 390.76 L573.4 389.26 L574.4 387.64 L575.5 386.15 L577.05 385.2 L579.04 384.52 L579.6 371.64 L580.15 370.01 L580.71 365.4 L580.71 360.79 L582.59 360.79 L582.59 356.45 L586.46 356.45 L590.56 355.5 L590.56 353.47 L593.93 353.47 L593.93 351.43 L597.31 351.43 L597.31 346.69 L600.63 346.69 L600.63 341.94 L603.95 341.94 L603.95 338.41 L606.5 338.41 L606.94 336.92 L606.94 334.35 L609.49 334.35 L609.49 331.77 L611.81 331.77 L611.81 328.79 L615.02 328.79 L619.56 327.7 L620.34 324.72 L620.34 323.23 L622.66 323.23 L623.32 320.65 L623.32 317.67 L625.65 317.67 L626.76 314.55 L626.76 312.38 L629.3 312.38 L630.74 311.57 L641.15 311.57 L641.15 310.07 L642.7 310.07 L643.47 309.26 L643.47 306.82 L646.35 306.01 L646.35 303.97 L649.12 303.97 L652.33 303.16 L656.31 302.34 L656.76 299.23 L658.75 298.41 L662.84 298.01 L662.84 295.7 L664.39 295.29 L664.39 290.82 L666.05 290.82 L671.59 290.01 L671.59 287.7 L674.8 287.7" fill="none" stroke="#1f9e80" stroke-width="1.9" stroke-linejoin="miter"/>
<path d="M564.1 423.3 L571.3 423.3 L571.3 421.13 L573.95 421.13 L573.95 397.4 L576.5 397.4 L576.5 391.16 L578.6 391.16 L578.6 388.72 L579.6 386.15 L581.59 385.6 L581.59 370.55 L589.89 370.55 L597.31 370.42 L603.4 370.01 L603.4 365.4 L605.28 365.4 L605.28 359.7 L607.72 359.7 L607.72 356.04 L608.68 356.04 L608.68 352.38 L609.63 352.38 L609.63 348.72 L610.59 348.72 L610.59 345.06 L611.11 345.06 L611.11 341.4 L611.63 341.4 L611.63 337.74 L612.14 337.74 L619.56 337.74 L619.56 328.79 L624.43 328.79 L624.43 322.82 L634.06 322.82 L634.06 316.85 L639.15 316.85 L639.15 314.41 L641.15 314.41 L641.15 311.7 L650.67 311.7 L650.67 308.85 L653.55 308.85 L653.55 303.29 L656.76 303.29 L656.76 301.67 L658.75 301.67 L658.75 299.36 L663.18 299.36 L663.18 298.55 L663.18 293.94 L666.83 293.94 L670.04 293.26 L670.81 290.01 L670.81 287.7 L674.8 287.7" fill="none" stroke="#3b5a94" stroke-width="1.9" stroke-linejoin="miter"/>
<line x1="558.6" y1="281.6" x2="558.6" y2="430" stroke="#111" stroke-width="1.8" stroke-linecap="butt"/>
<line x1="557.7" y1="429.1" x2="680.2" y2="429.1" stroke="#111" stroke-width="1.8" stroke-linecap="butt"/>
<rect x="591.6" y="339.3" width="68" height="19" rx="0.8" fill="#2a9f84" stroke="#111" stroke-width="0.9"/>
<text x="625.6" y="347.2" font-size="7" text-anchor="middle" fill="#000" font-weight="normal">AUC (All) = 0.66</text>
<text x="625.6" y="356.6" font-size="7" text-anchor="middle" fill="#000" font-weight="normal">(95% CI: 0.58−0.74)</text>
<rect x="591.6" y="367" width="67.4" height="18.3" rx="0.8" fill="#3d5d97" stroke="#3d5d97" stroke-width="0.9"/>
<text x="625.3" y="374.9" font-size="7" text-anchor="middle" fill="#fff" font-weight="normal">AUC (IC&lt;0.51) = 0.6</text>
<text x="625.3" y="384.3" font-size="7" text-anchor="middle" fill="#fff" font-weight="normal">(95% CI: 0.48−0.72)</text>
<rect x="588.5" y="400.3" width="72.7" height="19.5" rx="0.8" fill="#d8c99c" stroke="#333" stroke-width="0.9"/>
<text x="624.85" y="408.2" font-size="7" text-anchor="middle" fill="#000" font-weight="normal">AUC (IC&gt;0.51) = 0.73</text>
<text x="624.85" y="417.6" font-size="7" text-anchor="middle" fill="#000" font-weight="normal">(95% CI: 0.62−0.83)</text>
<text x="552.6" y="428.2" font-size="10.5" text-anchor="end" fill="#4d4d4d" font-weight="normal">0.00</text>
<text x="564.1" y="444.2" font-size="10.5" text-anchor="middle" fill="#4d4d4d" font-weight="normal">0.00</text>
<text x="552.6" y="394.2" font-size="10.5" text-anchor="end" fill="#4d4d4d" font-weight="normal">0.25</text>
<text x="591.77" y="444.2" font-size="10.5" text-anchor="middle" fill="#4d4d4d" font-weight="normal">0.25</text>
<text x="552.6" y="360.2" font-size="10.5" text-anchor="end" fill="#4d4d4d" font-weight="normal">0.50</text>
<text x="619.45" y="444.2" font-size="10.5" text-anchor="middle" fill="#4d4d4d" font-weight="normal">0.50</text>
<text x="552.6" y="326.2" font-size="10.5" text-anchor="end" fill="#4d4d4d" font-weight="normal">0.75</text>
<text x="647.12" y="444.2" font-size="10.5" text-anchor="middle" fill="#4d4d4d" font-weight="normal">0.75</text>
<text x="552.6" y="292.2" font-size="10.5" text-anchor="end" fill="#4d4d4d" font-weight="normal">1.00</text>
<text x="674.8" y="444.2" font-size="10.5" text-anchor="middle" fill="#4d4d4d" font-weight="normal">1.00</text>
<text x="619.9" y="484" font-size="13" text-anchor="middle" fill="#000" font-weight="normal">1 – Specificity</text>
<text x="527.4" y="355.3" font-size="13" text-anchor="middle" fill="#000" font-weight="normal" transform="rotate(-90 527.4 355.3)">Sensitivity</text>
<text x="1.7" y="512.5" font-size="15" text-anchor="start" fill="#000" font-weight="bold">i</text>
<line x1="49.8" y1="676.5" x2="171.6" y2="676.5" stroke="#ebebeb" stroke-width="1" stroke-linecap="butt"/>
<line x1="49.8" y1="660" x2="171.6" y2="660" stroke="#ebebeb" stroke-width="1" stroke-linecap="butt"/>
<line x1="49.8" y1="643.5" x2="171.6" y2="643.5" stroke="#ebebeb" stroke-width="1" stroke-linecap="butt"/>
<line x1="49.8" y1="627" x2="171.6" y2="627" stroke="#ebebeb" stroke-width="1" stroke-linecap="butt"/>
<line x1="49.8" y1="610.5" x2="171.6" y2="610.5" stroke="#ebebeb" stroke-width="1" stroke-linecap="butt"/>
<line x1="49.8" y1="594" x2="171.6" y2="594" stroke="#ebebeb" stroke-width="1" stroke-linecap="butt"/>
<line x1="49.8" y1="577.5" x2="171.6" y2="577.5" stroke="#ebebeb" stroke-width="1" stroke-linecap="butt"/>
<line x1="49.8" y1="561" x2="171.6" y2="561" stroke="#ebebeb" stroke-width="1" stroke-linecap="butt"/>
<line x1="49.8" y1="544.5" x2="171.6" y2="544.5" stroke="#ebebeb" stroke-width="1" stroke-linecap="butt"/>
<line x1="55.6" y1="532.2" x2="55.6" y2="679.5" stroke="#ebebeb" stroke-width="1" stroke-linecap="butt"/>
<line x1="71.9" y1="532.2" x2="71.9" y2="679.5" stroke="#ebebeb" stroke-width="1" stroke-linecap="butt"/>
<line x1="88.2" y1="532.2" x2="88.2" y2="679.5" stroke="#ebebeb" stroke-width="1" stroke-linecap="butt"/>
<line x1="104.5" y1="532.2" x2="104.5" y2="679.5" stroke="#ebebeb" stroke-width="1" stroke-linecap="butt"/>
<line x1="120.8" y1="532.2" x2="120.8" y2="679.5" stroke="#ebebeb" stroke-width="1" stroke-linecap="butt"/>
<line x1="137.1" y1="532.2" x2="137.1" y2="679.5" stroke="#ebebeb" stroke-width="1" stroke-linecap="butt"/>
<line x1="153.4" y1="532.2" x2="153.4" y2="679.5" stroke="#ebebeb" stroke-width="1" stroke-linecap="butt"/>
<line x1="169.7" y1="532.2" x2="169.7" y2="679.5" stroke="#ebebeb" stroke-width="1" stroke-linecap="butt"/>
<g fill="#009ed5" fill-opacity="0.45"><circle cx="58.5" cy="566.8" r="2.1"/><circle cx="90.3" cy="585.2" r="2.1"/><circle cx="76.8" cy="596.6" r="2.1"/><circle cx="71.1" cy="604.2" r="2.1"/><circle cx="64.3" cy="612.8" r="2.1"/><circle cx="61.1" cy="616.6" r="2.1"/><circle cx="72" cy="613.7" r="2.1"/><circle cx="61.4" cy="621.8" r="2.1"/><circle cx="86.1" cy="608.8" r="2.1"/><circle cx="107.7" cy="590.1" r="2.1"/><circle cx="74.1" cy="633.5" r="2.1"/><circle cx="62.2" cy="642.9" r="2.1"/><circle cx="65.8" cy="643.7" r="2.1"/><circle cx="65.8" cy="647.5" r="2.1"/><circle cx="68.7" cy="654" r="2.1"/><circle cx="61.1" cy="655.1" r="2.1"/><circle cx="67.1" cy="657.6" r="2.1"/><circle cx="67.9" cy="674.6" r="2.1"/><circle cx="98.8" cy="617.7" r="2.1"/><circle cx="94.7" cy="603.9" r="2.1"/><circle cx="108.1" cy="589.8" r="2.1"/><circle cx="123.6" cy="582" r="2.1"/><circle cx="129.3" cy="582" r="2.1"/><circle cx="130.9" cy="603.1" r="2.1"/><circle cx="121.1" cy="611.3" r="2.1"/><circle cx="113.8" cy="606.4" r="2.1"/><circle cx="127.3" cy="638.1" r="2.1"/><circle cx="100" cy="617.8" r="2.1"/><circle cx="59" cy="625" r="2.1"/><circle cx="62" cy="628" r="2.1"/><circle cx="64" cy="631" r="2.1"/><circle cx="60" cy="636" r="2.1"/><circle cx="66" cy="626" r="2.1"/><circle cx="70" cy="624" r="2.1"/><circle cx="58" cy="640" r="2.1"/><circle cx="63" cy="638" r="2.1"/><circle cx="75" cy="620" r="2.1"/><circle cx="80" cy="616" r="2.1"/><circle cx="59" cy="611" r="2.1"/><circle cx="68" cy="633" r="2.1"/></g>
<g fill="#ac393e" fill-opacity="0.45"><circle cx="77.6" cy="572.2" r="2.1"/><circle cx="74.1" cy="581.1" r="2.1"/><circle cx="88.7" cy="577.9" r="2.1"/><circle cx="69" cy="599.8" r="2.1"/><circle cx="59.8" cy="609.6" r="2.1"/><circle cx="60.6" cy="615.3" r="2.1"/><circle cx="55.4" cy="631.5" r="2.1"/><circle cx="82.5" cy="630.7" r="2.1"/><circle cx="83.7" cy="634.8" r="2.1"/><circle cx="92" cy="631.1" r="2.1"/><circle cx="105.8" cy="629.9" r="2.1"/><circle cx="71.6" cy="644.6" r="2.1"/><circle cx="74.7" cy="646.2" r="2.1"/><circle cx="61.7" cy="647" r="2.1"/><circle cx="65" cy="650.2" r="2.1"/><circle cx="55.7" cy="653" r="2.1"/><circle cx="57.8" cy="658.9" r="2.1"/><circle cx="56.8" cy="662.1" r="2.1"/><circle cx="56.8" cy="667.6" r="2.1"/><circle cx="149.2" cy="538.5" r="2.1"/><circle cx="156.9" cy="545.4" r="2.1"/><circle cx="128.4" cy="563.8" r="2.1"/><circle cx="143.9" cy="567.1" r="2.1"/><circle cx="130.1" cy="572.6" r="2.1"/><circle cx="115" cy="586.9" r="2.1"/><circle cx="130.9" cy="585.3" r="2.1"/><circle cx="143.6" cy="595.8" r="2.1"/><circle cx="166.6" cy="612.1" r="2.1"/><circle cx="127.3" cy="618.1" r="2.1"/><circle cx="115.8" cy="623.1" r="2.1"/><circle cx="106" cy="629.6" r="2.1"/><circle cx="130.9" cy="596.6" r="2.1"/><circle cx="57" cy="628" r="2.1"/><circle cx="60" cy="634" r="2.1"/><circle cx="63" cy="640" r="2.1"/><circle cx="58" cy="645" r="2.1"/><circle cx="66" cy="637" r="2.1"/><circle cx="70" cy="630" r="2.1"/><circle cx="56" cy="622" r="2.1"/><circle cx="61" cy="619" r="2.1"/><circle cx="67" cy="622" r="2.1"/><circle cx="73" cy="627" r="2.1"/><circle cx="78" cy="625" r="2.1"/><circle cx="64" cy="644" r="2.1"/><circle cx="59" cy="650" r="2.1"/><circle cx="69" cy="640" r="2.1"/></g>
<path d="M58.4 618.8 L60.43 618.3 L62.46 617.77 L64.5 617.2 L66.53 616.6 L68.56 615.96 L70.59 615.27 L72.63 614.53 L74.66 613.74 L76.69 612.88 L78.72 611.95 L80.76 610.96 L82.79 609.9 L84.82 608.77 L86.85 607.58 L88.89 606.33 L90.92 605.03 L92.95 603.67 L94.98 602.27 L97.02 600.83 L99.05 599.36 L101.08 597.85 L103.11 596.32 L105.15 594.77 L107.18 593.19 L109.21 591.6 L111.24 589.99 L113.28 588.37 L115.31 586.74 L117.34 585.1 L119.37 583.45 L121.41 581.79 L123.44 580.12 L125.47 578.45 L127.5 576.77 L129.54 575.08 L131.57 573.39 L133.6 571.7 L135.63 570 L137.67 568.3 L139.7 566.6 L139.7 612.6 L137.67 612.92 L135.63 613.25 L133.6 613.57 L131.57 613.91 L129.54 614.24 L127.5 614.58 L125.47 614.93 L123.44 615.28 L121.41 615.64 L119.37 616 L117.34 616.38 L115.31 616.76 L113.28 617.15 L111.24 617.56 L109.21 617.98 L107.18 618.41 L105.15 618.86 L103.11 619.33 L101.08 619.82 L99.05 620.34 L97.02 620.89 L94.98 621.48 L92.95 622.1 L90.92 622.77 L88.89 623.49 L86.85 624.27 L84.82 625.1 L82.79 626 L80.76 626.96 L78.72 628 L76.69 629.1 L74.66 630.26 L72.63 631.49 L70.59 632.78 L68.56 634.11 L66.53 635.5 L64.5 636.92 L62.46 638.38 L60.43 639.88 L58.4 641.4Z" fill="#009ed5" fill-opacity="0.4"/>
<line x1="58.4" y1="630.1" x2="139.7" y2="589.6" stroke="#009ed5" stroke-width="2.3" stroke-linecap="butt"/>
<path d="M55.6 626.8 L58.37 625.53 L61.14 624.26 L63.91 622.96 L66.68 621.65 L69.45 620.32 L72.22 618.97 L74.99 617.58 L77.76 616.16 L80.53 614.71 L83.3 613.2 L86.07 611.65 L88.84 610.04 L91.61 608.37 L94.38 606.64 L97.15 604.84 L99.92 602.99 L102.69 601.08 L105.46 599.12 L108.23 597.12 L111 595.08 L113.77 593.01 L116.54 590.91 L119.31 588.78 L122.08 586.64 L124.85 584.48 L127.62 582.3 L130.39 580.12 L133.16 577.92 L135.93 575.71 L138.7 573.5 L141.47 571.28 L144.24 569.05 L147.01 566.82 L149.78 564.58 L152.55 562.34 L155.32 560.1 L158.09 557.85 L160.86 555.61 L163.63 553.35 L166.4 551.1 L166.4 582.5 L163.63 583.7 L160.86 584.89 L158.09 586.1 L155.32 587.3 L152.55 588.51 L149.78 589.72 L147.01 590.93 L144.24 592.15 L141.47 593.37 L138.7 594.6 L135.93 595.84 L133.16 597.08 L130.39 598.33 L127.62 599.6 L124.85 600.87 L122.08 602.16 L119.31 603.47 L116.54 604.79 L113.77 606.14 L111 607.52 L108.23 608.93 L105.46 610.38 L102.69 611.87 L99.92 613.41 L97.15 615.01 L94.38 616.66 L91.61 618.38 L88.84 620.16 L86.07 622 L83.3 623.9 L80.53 625.84 L77.76 627.84 L74.99 629.87 L72.22 631.93 L69.45 634.03 L66.68 636.15 L63.91 638.29 L61.14 640.44 L58.37 642.62 L55.6 644.8Z" fill="#ac393e" fill-opacity="0.4"/>
<line x1="55.6" y1="635.8" x2="166.4" y2="566.8" stroke="#ac393e" stroke-width="2.3" stroke-linecap="butt"/>
<text x="56.9" y="550.2" font-size="10.5" fill="#1ba1d9" textLength="86.7" lengthAdjust="spacingAndGlyphs" xml:space="preserve"><tspan font-style="italic">R</tspan> = 0.46, <tspan font-style="italic">p</tspan> = 0.011</text>
<text x="56.9" y="563.6" font-size="10.5" fill="#b13a3c" textLength="100.1" lengthAdjust="spacingAndGlyphs" xml:space="preserve"><tspan font-style="italic">R</tspan> = 0.68, <tspan font-style="italic">p</tspan> = 4.1e−08</text>
<text x="44.4" y="663.7" font-size="10.5" text-anchor="end" fill="#4d4d4d" font-weight="normal">−1.5</text>
<text x="44.4" y="630.7" font-size="10.5" text-anchor="end" fill="#4d4d4d" font-weight="normal">−1.0</text>
<text x="44.4" y="597.7" font-size="10.5" text-anchor="end" fill="#4d4d4d" font-weight="normal">−0.5</text>
<text x="44.4" y="564.7" font-size="10.5" text-anchor="end" fill="#4d4d4d" font-weight="normal">0.0</text>
<text x="55.6" y="696.1" font-size="10.5" text-anchor="middle" fill="#4d4d4d" font-weight="normal">0.0</text>
<text x="88.2" y="696.1" font-size="10.5" text-anchor="middle" fill="#4d4d4d" font-weight="normal">0.1</text>
<text x="120.8" y="696.1" font-size="10.5" text-anchor="middle" fill="#4d4d4d" font-weight="normal">0.2</text>
<text x="153.4" y="696.1" font-size="10.5" text-anchor="middle" fill="#4d4d4d" font-weight="normal">0.3</text>
<text x="111" y="734.8" font-size="13" text-anchor="middle" fill="#000" font-weight="normal">neutrophil proportion</text>
<text x="17" y="606.5" font-size="13" text-anchor="middle" fill="#000" font-weight="normal" transform="rotate(-90 17 606.5)">WID–blood–BC index</text>
<text x="188.6" y="512.5" font-size="15" text-anchor="start" fill="#000" font-weight="bold">j</text>
<line x1="236.1" y1="674.55" x2="317.4" y2="674.55" stroke="#ebebeb" stroke-width="1" stroke-linecap="butt"/>
<line x1="236.1" y1="655.4" x2="317.4" y2="655.4" stroke="#ebebeb" stroke-width="1" stroke-linecap="butt"/>
<line x1="236.1" y1="636.25" x2="317.4" y2="636.25" stroke="#ebebeb" stroke-width="1" stroke-linecap="butt"/>
<line x1="236.1" y1="617.1" x2="317.4" y2="617.1" stroke="#ebebeb" stroke-width="1" stroke-linecap="butt"/>
<line x1="236.1" y1="597.95" x2="317.4" y2="597.95" stroke="#ebebeb" stroke-width="1" stroke-linecap="butt"/>
<line x1="236.1" y1="578.8" x2="317.4" y2="578.8" stroke="#ebebeb" stroke-width="1" stroke-linecap="butt"/>
<line x1="236.1" y1="559.65" x2="317.4" y2="559.65" stroke="#ebebeb" stroke-width="1" stroke-linecap="butt"/>
<line x1="236.1" y1="540.5" x2="317.4" y2="540.5" stroke="#ebebeb" stroke-width="1" stroke-linecap="butt"/>
<line x1="258" y1="532" x2="258" y2="680" stroke="#ebebeb" stroke-width="1" stroke-linecap="butt"/>
<line x1="295.4" y1="532" x2="295.4" y2="680" stroke="#ebebeb" stroke-width="1" stroke-linecap="butt"/>
<line x1="258" y1="583.5" x2="258" y2="601.7" stroke="#333" stroke-width="1.2" stroke-linecap="butt"/>
<line x1="258" y1="635.3" x2="258" y2="674.7" stroke="#333" stroke-width="1.2" stroke-linecap="butt"/>
<rect x="244.2" y="601.7" width="28.1" height="33.6" fill="#009ed5" fill-opacity="0.2" stroke="#333" stroke-width="1.2"/>
<line x1="244.2" y1="617" x2="272.3" y2="617" stroke="#222" stroke-width="2.3" stroke-linecap="butt"/>
<line x1="295.4" y1="560.9" x2="295.4" y2="600.5" stroke="#333" stroke-width="1.2" stroke-linecap="butt"/>
<line x1="295.4" y1="637.3" x2="295.4" y2="660.1" stroke="#333" stroke-width="1.2" stroke-linecap="butt"/>
<rect x="281.4" y="600.5" width="27.9" height="36.8" fill="#ac393e" fill-opacity="0.2" stroke="#333" stroke-width="1.2"/>
<line x1="281.4" y1="617.8" x2="309.3" y2="617.8" stroke="#222" stroke-width="2.3" stroke-linecap="butt"/>
<g fill="#009ed5" fill-opacity="0.65"><circle cx="257.7" cy="538.5" r="1.45"/><circle cx="259.7" cy="542.8" r="1.45"/><circle cx="255.9" cy="583.4" r="1.45"/><circle cx="262.4" cy="588.5" r="1.45"/><circle cx="255.3" cy="594.6" r="1.45"/><circle cx="260.7" cy="598.6" r="1.45"/><circle cx="247.1" cy="600.1" r="1.45"/><circle cx="255.9" cy="602.1" r="1.45"/><circle cx="269.5" cy="601.5" r="1.45"/><circle cx="248.2" cy="609.2" r="1.45"/><circle cx="251.6" cy="610.8" r="1.45"/><circle cx="262.8" cy="606.1" r="1.45"/><circle cx="266.4" cy="610.2" r="1.45"/><circle cx="245.7" cy="616.3" r="1.45"/><circle cx="258.7" cy="615.7" r="1.45"/><circle cx="269.5" cy="616.9" r="1.45"/><circle cx="256.7" cy="621.8" r="1.45"/><circle cx="249.2" cy="628.1" r="1.45"/><circle cx="252.6" cy="629.9" r="1.45"/><circle cx="263.4" cy="627.5" r="1.45"/><circle cx="267" cy="629.1" r="1.45"/><circle cx="247.1" cy="635.2" r="1.45"/><circle cx="259.7" cy="634" r="1.45"/><circle cx="266.8" cy="637.2" r="1.45"/><circle cx="255.9" cy="641.3" r="1.45"/><circle cx="259.7" cy="647.8" r="1.45"/><circle cx="253.2" cy="650.8" r="1.45"/><circle cx="260.9" cy="654.3" r="1.45"/><circle cx="256.7" cy="667.5" r="1.45"/><circle cx="257.9" cy="674.2" r="1.45"/></g>
<g fill="#ac393e" fill-opacity="0.5"><circle cx="293.9" cy="560.1" r="1.45"/><circle cx="295.5" cy="563.3" r="1.45"/><circle cx="291.4" cy="568.7" r="1.45"/><circle cx="299.3" cy="573.9" r="1.45"/><circle cx="294.7" cy="575.7" r="1.45"/><circle cx="296.3" cy="580.6" r="1.45"/><circle cx="292.3" cy="587.7" r="1.45"/><circle cx="299.9" cy="592" r="1.45"/><circle cx="292.6" cy="593.4" r="1.45"/><circle cx="296.3" cy="593.6" r="1.45"/><circle cx="286.9" cy="599.1" r="1.45"/><circle cx="287.4" cy="602.8" r="1.45"/><circle cx="293.1" cy="600.4" r="1.45"/><circle cx="298" cy="600.7" r="1.45"/><circle cx="303.3" cy="600.1" r="1.45"/><circle cx="282.5" cy="609.3" r="1.45"/><circle cx="289.3" cy="608.5" r="1.45"/><circle cx="295.5" cy="608.5" r="1.45"/><circle cx="301.7" cy="607.2" r="1.45"/><circle cx="307.4" cy="609.8" r="1.45"/><circle cx="294.2" cy="613.9" r="1.45"/><circle cx="301.2" cy="614.2" r="1.45"/><circle cx="286.6" cy="615.9" r="1.45"/><circle cx="290.6" cy="617" r="1.45"/><circle cx="305.3" cy="615.9" r="1.45"/><circle cx="283.6" cy="620.7" r="1.45"/><circle cx="286.6" cy="623.5" r="1.45"/><circle cx="292.6" cy="621.9" r="1.45"/><circle cx="299.6" cy="622.4" r="1.45"/><circle cx="306.6" cy="621.1" r="1.45"/><circle cx="290.3" cy="627.2" r="1.45"/><circle cx="301.5" cy="626.7" r="1.45"/><circle cx="285.4" cy="632.1" r="1.45"/><circle cx="295.8" cy="631.8" r="1.45"/><circle cx="304" cy="632.4" r="1.45"/><circle cx="287.4" cy="638.6" r="1.45"/><circle cx="293.1" cy="637.5" r="1.45"/><circle cx="299.9" cy="637.8" r="1.45"/><circle cx="283.8" cy="643.5" r="1.45"/><circle cx="290.3" cy="642.2" r="1.45"/><circle cx="291.9" cy="644.6" r="1.45"/><circle cx="296.8" cy="643" r="1.45"/><circle cx="298" cy="645.9" r="1.45"/><circle cx="303.3" cy="641.9" r="1.45"/><circle cx="304.8" cy="644.6" r="1.45"/><circle cx="289.3" cy="650.5" r="1.45"/><circle cx="298" cy="653.3" r="1.45"/><circle cx="293.9" cy="660.2" r="1.45"/><circle cx="295.5" cy="660.6" r="1.45"/></g>
<text x="230.3" y="659.1" font-size="10.5" text-anchor="end" fill="#4d4d4d" font-weight="normal">−0.5</text>
<text x="230.3" y="620.8" font-size="10.5" text-anchor="end" fill="#4d4d4d" font-weight="normal">0.0</text>
<text x="230.3" y="582.5" font-size="10.5" text-anchor="end" fill="#4d4d4d" font-weight="normal">0.5</text>
<text x="230.3" y="544.2" font-size="10.5" text-anchor="end" fill="#4d4d4d" font-weight="normal">1.0</text>
<text x="263.1" y="692.8" font-size="10.5" text-anchor="end" fill="#4d4d4d" font-weight="normal" transform="rotate(-45 263.1 692.8)">Control</text>
<text x="300.5" y="692.8" font-size="10.5" text-anchor="end" fill="#4d4d4d" font-weight="normal" transform="rotate(-45 300.5 692.8)">BC case</text>
<text x="203.3" y="607.2" font-size="13" text-anchor="middle" fill="#000" font-weight="normal" transform="rotate(-90 203.3 607.2)">WID–blood–BC index (adjusted)</text>
<text x="356.7" y="512.5" font-size="15" text-anchor="start" fill="#000" font-weight="bold">k</text>
<line x1="417.3" y1="673.7" x2="527.6" y2="538.9" stroke="#858585" stroke-width="1.1" stroke-linecap="butt"/>
<path d="M416.9 674.3 L416.9 649.9 L435.3 649.9 L435.3 640.7 L443.5 640.7 L443.5 630 L455 630 L455 616.3 L482.2 616.3 L482.2 611.1 L494.5 611.1 L494.5 600 L509.8 600 L509.8 577.1 L519.1 577.1 L519.1 538.2 L527.9 538.2" fill="none" stroke="#d6c79d" stroke-width="1.9" stroke-linejoin="miter"/>
<path d="M417.4 674.3 L424.5 674.3 L424.5 657.5 L428.3 657.5 L428.3 655.9 L431.5 655.9 L431.5 647.2 L434.8 647.2 L434.8 644.5 L438.6 643.4 L438.6 641.7 L440.2 641.7 L440.2 638 L443.5 638 L443.5 634 L446.75 634 L446.75 630 L450 630 L450 626 L453.33 626 L453.33 622 L456.67 622 L456.67 618 L460 618 L460 613 L465.1 613 L465.1 610.3 L468.4 610.3 L468.4 605.15 L470.2 605.15 L470.2 600 L472 600 L472 594.85 L475.6 594.85 L475.6 589.7 L479.2 589.7 L479.2 584.4 L495 584.4 L495 576.5 L506 576.5 L506 568.3 L509.8 568.3 L509.8 549.7 L513.7 549.7 L513.7 546.4 L515.8 546.4 L515.8 543.7 L518 543.7 L518 541 L519.7 541 L521.3 540.4 L522.4 539.9 L527.9 538.8" fill="none" stroke="#1f9e80" stroke-width="1.9" stroke-linejoin="miter"/>
<path d="M417.4 674.3 L429.4 674.3 L429.4 656.9 L433 656.9 L433 655 L434.8 655 L434.8 651 L441.3 651 L441.3 643 L448.3 643 L448.3 637.4 L454.3 637.4 L454.3 630 L453.8 616.3 L453.8 611.9 L459.7 611.9 L459.7 610.3 L465 610.3 L465 600 L465 598.33 L469.73 598.33 L469.73 596.67 L474.47 596.67 L474.47 595 L479.2 595 L479.2 588 L497.8 588 L497.8 581.5 L503.8 581.5 L503.8 556.8 L509.3 556.8 L509.3 549.7 L513.7 549.7 L513.7 546.4 L515.8 546.4 L515.8 544.2 L517 544.2 L517 541 L519.7 541 L519.7 540.4 L522.4 540.4 L522.4 539.9 L527.9 538.8" fill="none" stroke="#3b5a94" stroke-width="1.9" stroke-linejoin="miter"/>
<line x1="412.4" y1="532.4" x2="412.4" y2="680.9" stroke="#111" stroke-width="1.8" stroke-linecap="butt"/>
<line x1="411.5" y1="680" x2="533.7" y2="680" stroke="#111" stroke-width="1.8" stroke-linecap="butt"/>
<rect x="444.2" y="590.3" width="68.2" height="19.2" rx="0.8" fill="#2a9f84" stroke="#111" stroke-width="0.9"/>
<text x="478.3" y="598.2" font-size="7" text-anchor="middle" fill="#000" font-weight="normal">AUC (All) = 0.51</text>
<text x="478.3" y="607.6" font-size="7" text-anchor="middle" fill="#000" font-weight="normal">(95% CI: 0.38−0.64)</text>
<rect x="435.7" y="617.8" width="85.7" height="17.9" rx="0.8" fill="#3d5d97" stroke="#3d5d97" stroke-width="0.9"/>
<text x="478.55" y="625.7" font-size="7" text-anchor="middle" fill="#fff" font-weight="normal">AUC (Neutro&lt;0.06) = 0.52</text>
<text x="478.55" y="635.1" font-size="7" text-anchor="middle" fill="#fff" font-weight="normal">(95% CI: 0.33−0.71)</text>
<rect x="434.8" y="651.3" width="86.6" height="19" rx="0.8" fill="#d8c99c" stroke="#333" stroke-width="0.9"/>
<text x="478.1" y="659.2" font-size="7" text-anchor="middle" fill="#000" font-weight="normal">AUC (Neutro&gt;0.06) = 0.45</text>
<text x="478.1" y="668.6" font-size="7" text-anchor="middle" fill="#000" font-weight="normal">(95% CI: 0.26−0.64)</text>
<text x="405.5" y="678.6" font-size="10.5" text-anchor="end" fill="#4d4d4d" font-weight="normal">0.00</text>
<text x="417.3" y="695.5" font-size="10.5" text-anchor="middle" fill="#4d4d4d" font-weight="normal">0.00</text>
<text x="405.5" y="644.8" font-size="10.5" text-anchor="end" fill="#4d4d4d" font-weight="normal">0.25</text>
<text x="444.88" y="695.5" font-size="10.5" text-anchor="middle" fill="#4d4d4d" font-weight="normal">0.25</text>
<text x="405.5" y="611" font-size="10.5" text-anchor="end" fill="#4d4d4d" font-weight="normal">0.50</text>
<text x="472.45" y="695.5" font-size="10.5" text-anchor="middle" fill="#4d4d4d" font-weight="normal">0.50</text>
<text x="405.5" y="577.2" font-size="10.5" text-anchor="end" fill="#4d4d4d" font-weight="normal">0.75</text>
<text x="500.02" y="695.5" font-size="10.5" text-anchor="middle" fill="#4d4d4d" font-weight="normal">0.75</text>
<text x="405.5" y="543.4" font-size="10.5" text-anchor="end" fill="#4d4d4d" font-weight="normal">1.00</text>
<text x="527.6" y="695.5" font-size="10.5" text-anchor="middle" fill="#4d4d4d" font-weight="normal">1.00</text>
<text x="473" y="735.5" font-size="13" text-anchor="middle" fill="#000" font-weight="normal">1 – Specificity</text>
<text x="380.6" y="606.5" font-size="13" text-anchor="middle" fill="#000" font-weight="normal" transform="rotate(-90 380.6 606.5)">Sensitivity</text>
</svg></body></html>
